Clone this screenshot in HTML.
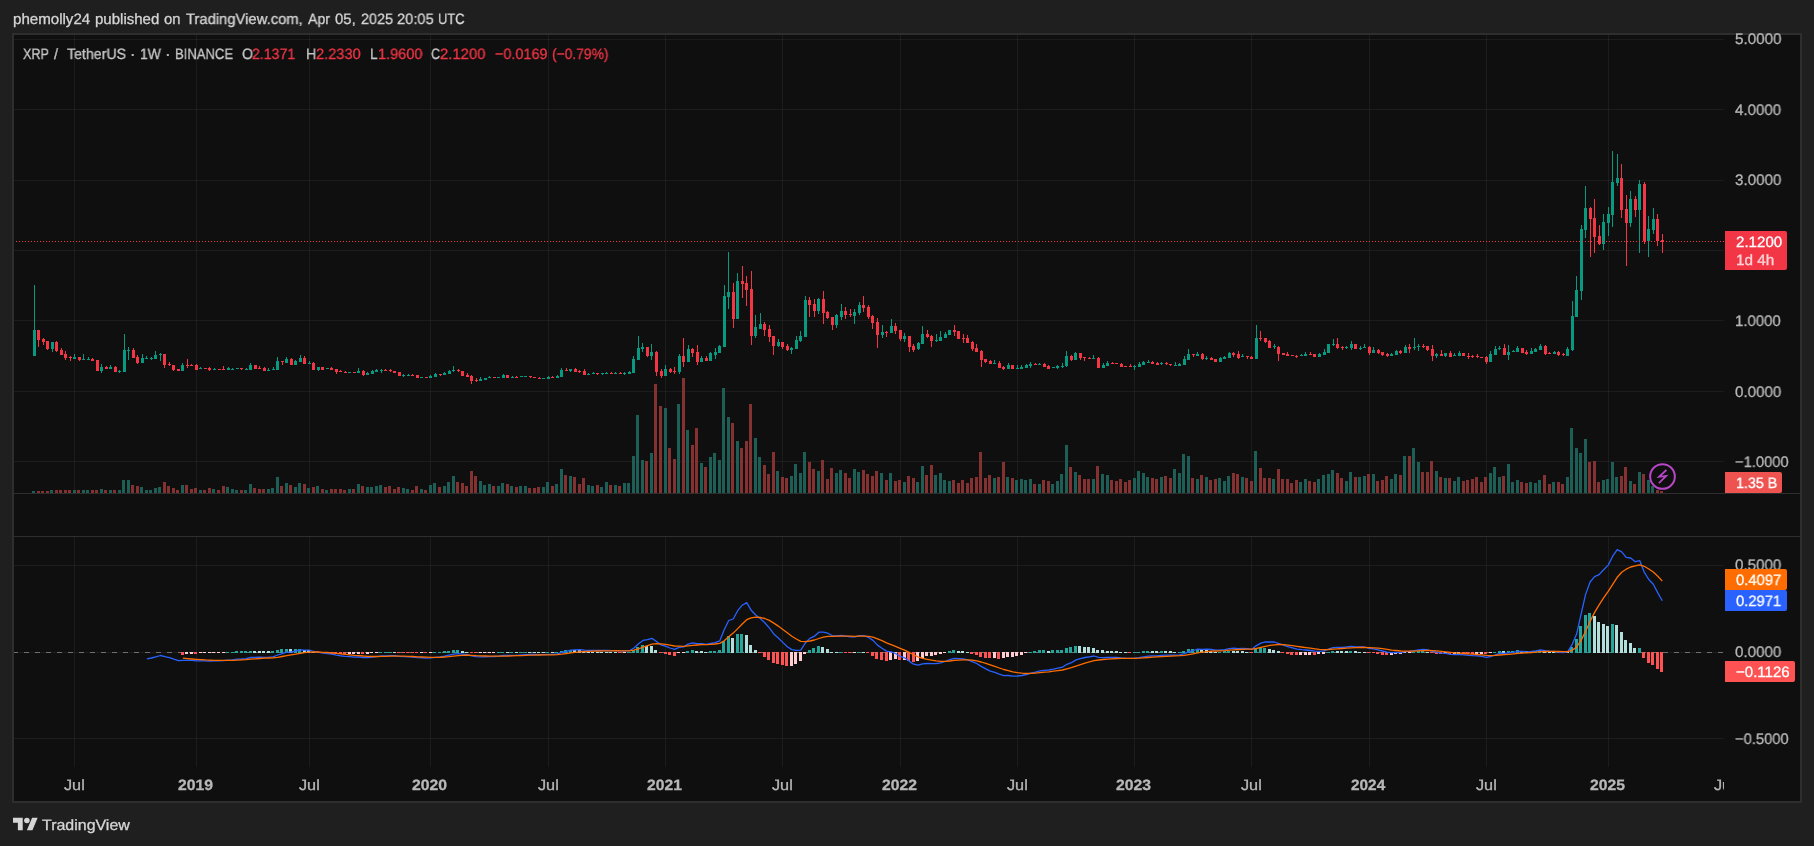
<!DOCTYPE html>
<html><head><meta charset="utf-8"><title>XRP / TetherUS chart</title>
<style>
html,body{margin:0;padding:0;}
body{width:1814px;height:846px;background:#1f1f1f;overflow:hidden;position:relative;font-family:"Liberation Sans",sans-serif;}
#frame{position:absolute;left:12px;top:33px;width:1786px;height:766px;border:2px solid #2e2e2e;background:#0f0f0f;}
svg{position:absolute;left:0;top:0;}
.t{position:absolute;white-space:pre;line-height:1;will-change:transform;transform-origin:0 0;-webkit-text-stroke:0.3px;text-rendering:geometricPrecision;font-family:"Liberation Sans",sans-serif;}
#taxis{position:absolute;left:14px;top:767px;width:1710px;height:34px;overflow:hidden;}
.lab{position:absolute;left:1725px;border-radius:0 2px 2px 0;}
</style></head><body>
<div id="frame"></div>
<svg width="1814" height="846" viewBox="0 0 1814 846" shape-rendering="crispEdges">
<rect x="14" y="39" width="1710" height="1" fill="#f2f2f2" fill-opacity="0.06"/>
<rect x="14" y="109" width="1710" height="1" fill="#f2f2f2" fill-opacity="0.06"/>
<rect x="14" y="180" width="1710" height="1" fill="#f2f2f2" fill-opacity="0.06"/>
<rect x="14" y="250" width="1710" height="1" fill="#f2f2f2" fill-opacity="0.06"/>
<rect x="14" y="320" width="1710" height="1" fill="#f2f2f2" fill-opacity="0.06"/>
<rect x="14" y="391" width="1710" height="1" fill="#f2f2f2" fill-opacity="0.06"/>
<rect x="14" y="461" width="1710" height="1" fill="#f2f2f2" fill-opacity="0.06"/>
<rect x="14" y="565" width="1710" height="1" fill="#f2f2f2" fill-opacity="0.06"/>
<rect x="14" y="738" width="1710" height="1" fill="#f2f2f2" fill-opacity="0.06"/>
<rect x="74" y="35" width="1" height="458" fill="#f2f2f2" fill-opacity="0.06"/>
<rect x="74" y="537" width="1" height="230" fill="#f2f2f2" fill-opacity="0.06"/>
<rect x="196" y="35" width="1" height="458" fill="#f2f2f2" fill-opacity="0.06"/>
<rect x="196" y="537" width="1" height="230" fill="#f2f2f2" fill-opacity="0.06"/>
<rect x="309" y="35" width="1" height="458" fill="#f2f2f2" fill-opacity="0.06"/>
<rect x="309" y="537" width="1" height="230" fill="#f2f2f2" fill-opacity="0.06"/>
<rect x="430" y="35" width="1" height="458" fill="#f2f2f2" fill-opacity="0.06"/>
<rect x="430" y="537" width="1" height="230" fill="#f2f2f2" fill-opacity="0.06"/>
<rect x="548" y="35" width="1" height="458" fill="#f2f2f2" fill-opacity="0.06"/>
<rect x="548" y="537" width="1" height="230" fill="#f2f2f2" fill-opacity="0.06"/>
<rect x="665" y="35" width="1" height="458" fill="#f2f2f2" fill-opacity="0.06"/>
<rect x="665" y="537" width="1" height="230" fill="#f2f2f2" fill-opacity="0.06"/>
<rect x="782" y="35" width="1" height="458" fill="#f2f2f2" fill-opacity="0.06"/>
<rect x="782" y="537" width="1" height="230" fill="#f2f2f2" fill-opacity="0.06"/>
<rect x="900" y="35" width="1" height="458" fill="#f2f2f2" fill-opacity="0.06"/>
<rect x="900" y="537" width="1" height="230" fill="#f2f2f2" fill-opacity="0.06"/>
<rect x="1017" y="35" width="1" height="458" fill="#f2f2f2" fill-opacity="0.06"/>
<rect x="1017" y="537" width="1" height="230" fill="#f2f2f2" fill-opacity="0.06"/>
<rect x="1134" y="35" width="1" height="458" fill="#f2f2f2" fill-opacity="0.06"/>
<rect x="1134" y="537" width="1" height="230" fill="#f2f2f2" fill-opacity="0.06"/>
<rect x="1251" y="35" width="1" height="458" fill="#f2f2f2" fill-opacity="0.06"/>
<rect x="1251" y="537" width="1" height="230" fill="#f2f2f2" fill-opacity="0.06"/>
<rect x="1369" y="35" width="1" height="458" fill="#f2f2f2" fill-opacity="0.06"/>
<rect x="1369" y="537" width="1" height="230" fill="#f2f2f2" fill-opacity="0.06"/>
<rect x="1486" y="35" width="1" height="458" fill="#f2f2f2" fill-opacity="0.06"/>
<rect x="1486" y="537" width="1" height="230" fill="#f2f2f2" fill-opacity="0.06"/>
<rect x="1608" y="35" width="1" height="458" fill="#f2f2f2" fill-opacity="0.06"/>
<rect x="1608" y="537" width="1" height="230" fill="#f2f2f2" fill-opacity="0.06"/>
<rect x="14" y="493" width="1786" height="1" fill="#2e2e2e"/>
<rect x="14" y="536" width="1786" height="1" fill="#2e2e2e"/>
<rect x="32" y="491" width="3" height="2" fill="#1d5e57"/>
<rect x="37" y="491" width="3" height="2" fill="#833231"/>
<rect x="41" y="491" width="3" height="2" fill="#833231"/>
<rect x="46" y="491" width="3" height="2" fill="#833231"/>
<rect x="50" y="490" width="3" height="3" fill="#1d5e57"/>
<rect x="55" y="490" width="3" height="3" fill="#833231"/>
<rect x="59" y="490" width="3" height="3" fill="#833231"/>
<rect x="64" y="490" width="3" height="3" fill="#833231"/>
<rect x="68" y="490" width="3" height="3" fill="#833231"/>
<rect x="73" y="490" width="3" height="3" fill="#1d5e57"/>
<rect x="77" y="490" width="3" height="3" fill="#833231"/>
<rect x="82" y="490" width="3" height="3" fill="#1d5e57"/>
<rect x="86" y="490" width="3" height="3" fill="#1d5e57"/>
<rect x="91" y="490" width="3" height="3" fill="#833231"/>
<rect x="95" y="490" width="3" height="3" fill="#833231"/>
<rect x="100" y="489" width="3" height="4" fill="#1d5e57"/>
<rect x="104" y="490" width="3" height="3" fill="#833231"/>
<rect x="109" y="490" width="3" height="3" fill="#1d5e57"/>
<rect x="113" y="490" width="3" height="3" fill="#833231"/>
<rect x="118" y="490" width="3" height="3" fill="#1d5e57"/>
<rect x="122" y="480" width="3" height="13" fill="#1d5e57"/>
<rect x="127" y="480" width="3" height="13" fill="#1d5e57"/>
<rect x="131" y="485" width="3" height="8" fill="#833231"/>
<rect x="136" y="486" width="3" height="7" fill="#833231"/>
<rect x="140" y="487" width="3" height="6" fill="#1d5e57"/>
<rect x="145" y="490" width="3" height="3" fill="#1d5e57"/>
<rect x="149" y="490" width="3" height="3" fill="#1d5e57"/>
<rect x="154" y="488" width="3" height="5" fill="#1d5e57"/>
<rect x="158" y="487" width="3" height="6" fill="#1d5e57"/>
<rect x="163" y="482" width="3" height="11" fill="#833231"/>
<rect x="167" y="486" width="3" height="7" fill="#833231"/>
<rect x="172" y="488" width="3" height="5" fill="#833231"/>
<rect x="176" y="490" width="3" height="3" fill="#833231"/>
<rect x="181" y="485" width="3" height="8" fill="#1d5e57"/>
<rect x="185" y="485" width="3" height="8" fill="#833231"/>
<rect x="190" y="489" width="3" height="4" fill="#833231"/>
<rect x="194" y="488" width="3" height="5" fill="#833231"/>
<rect x="199" y="490" width="3" height="3" fill="#1d5e57"/>
<rect x="203" y="490" width="3" height="3" fill="#833231"/>
<rect x="208" y="488" width="3" height="5" fill="#833231"/>
<rect x="212" y="489" width="3" height="4" fill="#1d5e57"/>
<rect x="217" y="490" width="3" height="3" fill="#833231"/>
<rect x="222" y="486" width="3" height="7" fill="#833231"/>
<rect x="226" y="487" width="3" height="6" fill="#1d5e57"/>
<rect x="231" y="489" width="3" height="4" fill="#1d5e57"/>
<rect x="235" y="490" width="3" height="3" fill="#1d5e57"/>
<rect x="240" y="490" width="3" height="3" fill="#833231"/>
<rect x="244" y="490" width="3" height="3" fill="#1d5e57"/>
<rect x="249" y="484" width="3" height="9" fill="#1d5e57"/>
<rect x="253" y="488" width="3" height="5" fill="#833231"/>
<rect x="258" y="489" width="3" height="4" fill="#833231"/>
<rect x="262" y="489" width="3" height="4" fill="#833231"/>
<rect x="267" y="489" width="3" height="4" fill="#1d5e57"/>
<rect x="271" y="488" width="3" height="5" fill="#1d5e57"/>
<rect x="276" y="477" width="3" height="16" fill="#1d5e57"/>
<rect x="280" y="486" width="3" height="7" fill="#833231"/>
<rect x="285" y="483" width="3" height="10" fill="#1d5e57"/>
<rect x="289" y="485" width="3" height="8" fill="#833231"/>
<rect x="294" y="487" width="3" height="6" fill="#1d5e57"/>
<rect x="298" y="483" width="3" height="10" fill="#1d5e57"/>
<rect x="303" y="484" width="3" height="9" fill="#833231"/>
<rect x="307" y="488" width="3" height="5" fill="#1d5e57"/>
<rect x="312" y="487" width="3" height="6" fill="#833231"/>
<rect x="316" y="486" width="3" height="7" fill="#1d5e57"/>
<rect x="321" y="489" width="3" height="4" fill="#833231"/>
<rect x="325" y="490" width="3" height="3" fill="#1d5e57"/>
<rect x="330" y="489" width="3" height="4" fill="#833231"/>
<rect x="334" y="489" width="3" height="4" fill="#833231"/>
<rect x="339" y="489" width="3" height="4" fill="#833231"/>
<rect x="343" y="490" width="3" height="3" fill="#833231"/>
<rect x="348" y="489" width="3" height="4" fill="#1d5e57"/>
<rect x="352" y="489" width="3" height="4" fill="#833231"/>
<rect x="357" y="484" width="3" height="9" fill="#1d5e57"/>
<rect x="361" y="486" width="3" height="7" fill="#833231"/>
<rect x="366" y="487" width="3" height="6" fill="#1d5e57"/>
<rect x="370" y="487" width="3" height="6" fill="#1d5e57"/>
<rect x="375" y="486" width="3" height="7" fill="#1d5e57"/>
<rect x="379" y="485" width="3" height="8" fill="#1d5e57"/>
<rect x="384" y="487" width="3" height="6" fill="#833231"/>
<rect x="388" y="486" width="3" height="7" fill="#833231"/>
<rect x="393" y="489" width="3" height="4" fill="#833231"/>
<rect x="397" y="487" width="3" height="6" fill="#833231"/>
<rect x="402" y="488" width="3" height="5" fill="#1d5e57"/>
<rect x="406" y="489" width="3" height="4" fill="#1d5e57"/>
<rect x="411" y="490" width="3" height="3" fill="#833231"/>
<rect x="415" y="486" width="3" height="7" fill="#833231"/>
<rect x="420" y="489" width="3" height="4" fill="#1d5e57"/>
<rect x="424" y="490" width="3" height="3" fill="#833231"/>
<rect x="429" y="485" width="3" height="8" fill="#1d5e57"/>
<rect x="433" y="483" width="3" height="10" fill="#1d5e57"/>
<rect x="438" y="487" width="3" height="6" fill="#833231"/>
<rect x="443" y="486" width="3" height="7" fill="#1d5e57"/>
<rect x="447" y="482" width="3" height="11" fill="#1d5e57"/>
<rect x="452" y="476" width="3" height="17" fill="#1d5e57"/>
<rect x="456" y="482" width="3" height="11" fill="#833231"/>
<rect x="461" y="483" width="3" height="10" fill="#833231"/>
<rect x="465" y="486" width="3" height="7" fill="#833231"/>
<rect x="470" y="471" width="3" height="22" fill="#833231"/>
<rect x="474" y="476" width="3" height="17" fill="#833231"/>
<rect x="479" y="481" width="3" height="12" fill="#1d5e57"/>
<rect x="483" y="485" width="3" height="8" fill="#1d5e57"/>
<rect x="488" y="484" width="3" height="9" fill="#1d5e57"/>
<rect x="492" y="486" width="3" height="7" fill="#833231"/>
<rect x="497" y="486" width="3" height="7" fill="#1d5e57"/>
<rect x="501" y="483" width="3" height="10" fill="#1d5e57"/>
<rect x="506" y="484" width="3" height="9" fill="#833231"/>
<rect x="510" y="486" width="3" height="7" fill="#1d5e57"/>
<rect x="515" y="487" width="3" height="6" fill="#833231"/>
<rect x="519" y="486" width="3" height="7" fill="#1d5e57"/>
<rect x="524" y="486" width="3" height="7" fill="#1d5e57"/>
<rect x="528" y="488" width="3" height="5" fill="#833231"/>
<rect x="533" y="488" width="3" height="5" fill="#833231"/>
<rect x="537" y="487" width="3" height="6" fill="#833231"/>
<rect x="542" y="487" width="3" height="6" fill="#1d5e57"/>
<rect x="546" y="482" width="3" height="11" fill="#1d5e57"/>
<rect x="551" y="486" width="3" height="7" fill="#833231"/>
<rect x="555" y="484" width="3" height="9" fill="#1d5e57"/>
<rect x="560" y="469" width="3" height="24" fill="#1d5e57"/>
<rect x="564" y="475" width="3" height="18" fill="#833231"/>
<rect x="569" y="476" width="3" height="17" fill="#1d5e57"/>
<rect x="573" y="477" width="3" height="16" fill="#833231"/>
<rect x="578" y="484" width="3" height="9" fill="#833231"/>
<rect x="582" y="478" width="3" height="15" fill="#833231"/>
<rect x="587" y="485" width="3" height="8" fill="#1d5e57"/>
<rect x="591" y="486" width="3" height="7" fill="#1d5e57"/>
<rect x="596" y="485" width="3" height="8" fill="#833231"/>
<rect x="600" y="487" width="3" height="6" fill="#1d5e57"/>
<rect x="605" y="482" width="3" height="11" fill="#1d5e57"/>
<rect x="609" y="485" width="3" height="8" fill="#833231"/>
<rect x="614" y="485" width="3" height="8" fill="#1d5e57"/>
<rect x="618" y="486" width="3" height="7" fill="#833231"/>
<rect x="623" y="483" width="3" height="10" fill="#1d5e57"/>
<rect x="627" y="483" width="3" height="10" fill="#1d5e57"/>
<rect x="632" y="456" width="3" height="37" fill="#1d5e57"/>
<rect x="636" y="415" width="3" height="78" fill="#1d5e57"/>
<rect x="641" y="460" width="3" height="33" fill="#1d5e57"/>
<rect x="645" y="461" width="3" height="32" fill="#833231"/>
<rect x="650" y="453" width="3" height="40" fill="#1d5e57"/>
<rect x="654" y="384" width="3" height="109" fill="#833231"/>
<rect x="659" y="406" width="3" height="87" fill="#833231"/>
<rect x="664" y="408" width="3" height="85" fill="#1d5e57"/>
<rect x="668" y="448" width="3" height="45" fill="#833231"/>
<rect x="673" y="459" width="3" height="34" fill="#833231"/>
<rect x="677" y="404" width="3" height="89" fill="#1d5e57"/>
<rect x="682" y="378" width="3" height="115" fill="#833231"/>
<rect x="686" y="430" width="3" height="63" fill="#1d5e57"/>
<rect x="691" y="445" width="3" height="48" fill="#833231"/>
<rect x="695" y="428" width="3" height="65" fill="#833231"/>
<rect x="700" y="463" width="3" height="30" fill="#1d5e57"/>
<rect x="704" y="467" width="3" height="26" fill="#833231"/>
<rect x="709" y="457" width="3" height="36" fill="#1d5e57"/>
<rect x="713" y="453" width="3" height="40" fill="#1d5e57"/>
<rect x="718" y="460" width="3" height="33" fill="#1d5e57"/>
<rect x="722" y="388" width="3" height="105" fill="#1d5e57"/>
<rect x="727" y="417" width="3" height="76" fill="#1d5e57"/>
<rect x="731" y="423" width="3" height="70" fill="#833231"/>
<rect x="736" y="441" width="3" height="52" fill="#1d5e57"/>
<rect x="740" y="448" width="3" height="45" fill="#833231"/>
<rect x="745" y="441" width="3" height="52" fill="#833231"/>
<rect x="749" y="404" width="3" height="89" fill="#833231"/>
<rect x="754" y="438" width="3" height="55" fill="#1d5e57"/>
<rect x="758" y="457" width="3" height="36" fill="#1d5e57"/>
<rect x="763" y="465" width="3" height="28" fill="#833231"/>
<rect x="767" y="474" width="3" height="19" fill="#833231"/>
<rect x="772" y="452" width="3" height="41" fill="#833231"/>
<rect x="776" y="471" width="3" height="22" fill="#1d5e57"/>
<rect x="781" y="477" width="3" height="16" fill="#833231"/>
<rect x="785" y="478" width="3" height="15" fill="#833231"/>
<rect x="790" y="476" width="3" height="17" fill="#1d5e57"/>
<rect x="794" y="464" width="3" height="29" fill="#1d5e57"/>
<rect x="799" y="473" width="3" height="20" fill="#1d5e57"/>
<rect x="803" y="452" width="3" height="41" fill="#1d5e57"/>
<rect x="808" y="462" width="3" height="31" fill="#833231"/>
<rect x="812" y="469" width="3" height="24" fill="#833231"/>
<rect x="817" y="471" width="3" height="22" fill="#1d5e57"/>
<rect x="821" y="460" width="3" height="33" fill="#833231"/>
<rect x="826" y="479" width="3" height="14" fill="#833231"/>
<rect x="830" y="468" width="3" height="25" fill="#833231"/>
<rect x="835" y="473" width="3" height="20" fill="#1d5e57"/>
<rect x="839" y="470" width="3" height="23" fill="#1d5e57"/>
<rect x="844" y="473" width="3" height="20" fill="#833231"/>
<rect x="848" y="478" width="3" height="15" fill="#833231"/>
<rect x="853" y="469" width="3" height="24" fill="#1d5e57"/>
<rect x="857" y="472" width="3" height="21" fill="#1d5e57"/>
<rect x="862" y="470" width="3" height="23" fill="#833231"/>
<rect x="866" y="474" width="3" height="19" fill="#833231"/>
<rect x="871" y="476" width="3" height="17" fill="#833231"/>
<rect x="875" y="471" width="3" height="22" fill="#833231"/>
<rect x="880" y="473" width="3" height="20" fill="#1d5e57"/>
<rect x="885" y="480" width="3" height="13" fill="#833231"/>
<rect x="889" y="473" width="3" height="20" fill="#1d5e57"/>
<rect x="894" y="481" width="3" height="12" fill="#833231"/>
<rect x="898" y="480" width="3" height="13" fill="#833231"/>
<rect x="903" y="482" width="3" height="11" fill="#1d5e57"/>
<rect x="907" y="476" width="3" height="17" fill="#833231"/>
<rect x="912" y="478" width="3" height="15" fill="#833231"/>
<rect x="916" y="482" width="3" height="11" fill="#1d5e57"/>
<rect x="921" y="466" width="3" height="27" fill="#1d5e57"/>
<rect x="925" y="475" width="3" height="18" fill="#833231"/>
<rect x="930" y="465" width="3" height="28" fill="#833231"/>
<rect x="934" y="475" width="3" height="18" fill="#1d5e57"/>
<rect x="939" y="473" width="3" height="20" fill="#1d5e57"/>
<rect x="943" y="480" width="3" height="13" fill="#1d5e57"/>
<rect x="948" y="481" width="3" height="12" fill="#1d5e57"/>
<rect x="952" y="480" width="3" height="13" fill="#833231"/>
<rect x="957" y="483" width="3" height="10" fill="#833231"/>
<rect x="961" y="480" width="3" height="13" fill="#833231"/>
<rect x="966" y="483" width="3" height="10" fill="#833231"/>
<rect x="970" y="478" width="3" height="15" fill="#833231"/>
<rect x="975" y="477" width="3" height="16" fill="#833231"/>
<rect x="979" y="452" width="3" height="41" fill="#833231"/>
<rect x="984" y="478" width="3" height="15" fill="#833231"/>
<rect x="988" y="475" width="3" height="18" fill="#833231"/>
<rect x="993" y="478" width="3" height="15" fill="#1d5e57"/>
<rect x="997" y="477" width="3" height="16" fill="#833231"/>
<rect x="1002" y="462" width="3" height="31" fill="#833231"/>
<rect x="1006" y="477" width="3" height="16" fill="#1d5e57"/>
<rect x="1011" y="478" width="3" height="15" fill="#833231"/>
<rect x="1015" y="480" width="3" height="13" fill="#1d5e57"/>
<rect x="1020" y="479" width="3" height="14" fill="#1d5e57"/>
<rect x="1024" y="480" width="3" height="13" fill="#1d5e57"/>
<rect x="1029" y="479" width="3" height="14" fill="#1d5e57"/>
<rect x="1033" y="484" width="3" height="9" fill="#833231"/>
<rect x="1038" y="484" width="3" height="9" fill="#1d5e57"/>
<rect x="1042" y="480" width="3" height="13" fill="#833231"/>
<rect x="1047" y="481" width="3" height="12" fill="#833231"/>
<rect x="1051" y="484" width="3" height="9" fill="#1d5e57"/>
<rect x="1056" y="481" width="3" height="12" fill="#1d5e57"/>
<rect x="1060" y="474" width="3" height="19" fill="#1d5e57"/>
<rect x="1065" y="445" width="3" height="48" fill="#1d5e57"/>
<rect x="1069" y="467" width="3" height="26" fill="#833231"/>
<rect x="1074" y="472" width="3" height="21" fill="#1d5e57"/>
<rect x="1078" y="475" width="3" height="18" fill="#833231"/>
<rect x="1083" y="479" width="3" height="14" fill="#833231"/>
<rect x="1087" y="479" width="3" height="14" fill="#833231"/>
<rect x="1092" y="479" width="3" height="14" fill="#1d5e57"/>
<rect x="1096" y="466" width="3" height="27" fill="#833231"/>
<rect x="1101" y="474" width="3" height="19" fill="#1d5e57"/>
<rect x="1106" y="475" width="3" height="18" fill="#1d5e57"/>
<rect x="1110" y="480" width="3" height="13" fill="#833231"/>
<rect x="1115" y="481" width="3" height="12" fill="#833231"/>
<rect x="1119" y="479" width="3" height="14" fill="#833231"/>
<rect x="1124" y="482" width="3" height="11" fill="#833231"/>
<rect x="1128" y="480" width="3" height="13" fill="#833231"/>
<rect x="1133" y="478" width="3" height="15" fill="#1d5e57"/>
<rect x="1137" y="471" width="3" height="22" fill="#1d5e57"/>
<rect x="1142" y="473" width="3" height="20" fill="#1d5e57"/>
<rect x="1146" y="477" width="3" height="16" fill="#1d5e57"/>
<rect x="1151" y="478" width="3" height="15" fill="#833231"/>
<rect x="1155" y="479" width="3" height="14" fill="#833231"/>
<rect x="1160" y="477" width="3" height="16" fill="#1d5e57"/>
<rect x="1164" y="476" width="3" height="17" fill="#833231"/>
<rect x="1169" y="478" width="3" height="15" fill="#833231"/>
<rect x="1173" y="469" width="3" height="24" fill="#1d5e57"/>
<rect x="1178" y="473" width="3" height="20" fill="#1d5e57"/>
<rect x="1182" y="454" width="3" height="39" fill="#1d5e57"/>
<rect x="1187" y="456" width="3" height="37" fill="#1d5e57"/>
<rect x="1191" y="478" width="3" height="15" fill="#833231"/>
<rect x="1196" y="479" width="3" height="14" fill="#1d5e57"/>
<rect x="1200" y="475" width="3" height="18" fill="#833231"/>
<rect x="1205" y="477" width="3" height="16" fill="#1d5e57"/>
<rect x="1209" y="480" width="3" height="13" fill="#833231"/>
<rect x="1214" y="479" width="3" height="14" fill="#833231"/>
<rect x="1218" y="478" width="3" height="15" fill="#1d5e57"/>
<rect x="1223" y="481" width="3" height="12" fill="#1d5e57"/>
<rect x="1227" y="476" width="3" height="17" fill="#1d5e57"/>
<rect x="1232" y="473" width="3" height="20" fill="#833231"/>
<rect x="1236" y="474" width="3" height="19" fill="#833231"/>
<rect x="1241" y="477" width="3" height="16" fill="#1d5e57"/>
<rect x="1245" y="478" width="3" height="15" fill="#833231"/>
<rect x="1250" y="481" width="3" height="12" fill="#833231"/>
<rect x="1254" y="451" width="3" height="42" fill="#1d5e57"/>
<rect x="1259" y="468" width="3" height="25" fill="#833231"/>
<rect x="1263" y="478" width="3" height="15" fill="#833231"/>
<rect x="1268" y="478" width="3" height="15" fill="#833231"/>
<rect x="1272" y="479" width="3" height="14" fill="#1d5e57"/>
<rect x="1277" y="469" width="3" height="24" fill="#833231"/>
<rect x="1281" y="479" width="3" height="14" fill="#833231"/>
<rect x="1286" y="479" width="3" height="14" fill="#833231"/>
<rect x="1290" y="483" width="3" height="10" fill="#833231"/>
<rect x="1295" y="480" width="3" height="13" fill="#833231"/>
<rect x="1299" y="482" width="3" height="11" fill="#1d5e57"/>
<rect x="1304" y="479" width="3" height="14" fill="#1d5e57"/>
<rect x="1308" y="481" width="3" height="12" fill="#833231"/>
<rect x="1313" y="482" width="3" height="11" fill="#833231"/>
<rect x="1317" y="479" width="3" height="14" fill="#1d5e57"/>
<rect x="1322" y="475" width="3" height="18" fill="#1d5e57"/>
<rect x="1327" y="474" width="3" height="19" fill="#1d5e57"/>
<rect x="1331" y="470" width="3" height="23" fill="#1d5e57"/>
<rect x="1336" y="473" width="3" height="20" fill="#833231"/>
<rect x="1340" y="478" width="3" height="15" fill="#833231"/>
<rect x="1345" y="481" width="3" height="12" fill="#1d5e57"/>
<rect x="1349" y="472" width="3" height="21" fill="#1d5e57"/>
<rect x="1354" y="477" width="3" height="16" fill="#833231"/>
<rect x="1358" y="477" width="3" height="16" fill="#1d5e57"/>
<rect x="1363" y="476" width="3" height="17" fill="#1d5e57"/>
<rect x="1367" y="474" width="3" height="19" fill="#833231"/>
<rect x="1372" y="474" width="3" height="19" fill="#1d5e57"/>
<rect x="1376" y="481" width="3" height="12" fill="#833231"/>
<rect x="1381" y="480" width="3" height="13" fill="#833231"/>
<rect x="1385" y="476" width="3" height="17" fill="#833231"/>
<rect x="1390" y="479" width="3" height="14" fill="#1d5e57"/>
<rect x="1394" y="474" width="3" height="19" fill="#1d5e57"/>
<rect x="1399" y="475" width="3" height="18" fill="#833231"/>
<rect x="1403" y="456" width="3" height="37" fill="#1d5e57"/>
<rect x="1408" y="456" width="3" height="37" fill="#833231"/>
<rect x="1412" y="448" width="3" height="45" fill="#1d5e57"/>
<rect x="1417" y="462" width="3" height="31" fill="#1d5e57"/>
<rect x="1421" y="472" width="3" height="21" fill="#833231"/>
<rect x="1426" y="472" width="3" height="21" fill="#833231"/>
<rect x="1430" y="461" width="3" height="32" fill="#833231"/>
<rect x="1435" y="471" width="3" height="22" fill="#1d5e57"/>
<rect x="1439" y="477" width="3" height="16" fill="#833231"/>
<rect x="1444" y="478" width="3" height="15" fill="#1d5e57"/>
<rect x="1448" y="478" width="3" height="15" fill="#833231"/>
<rect x="1453" y="481" width="3" height="12" fill="#1d5e57"/>
<rect x="1457" y="477" width="3" height="16" fill="#1d5e57"/>
<rect x="1462" y="481" width="3" height="12" fill="#833231"/>
<rect x="1466" y="480" width="3" height="13" fill="#833231"/>
<rect x="1471" y="479" width="3" height="14" fill="#833231"/>
<rect x="1475" y="477" width="3" height="16" fill="#833231"/>
<rect x="1480" y="482" width="3" height="11" fill="#833231"/>
<rect x="1484" y="477" width="3" height="16" fill="#833231"/>
<rect x="1489" y="473" width="3" height="20" fill="#1d5e57"/>
<rect x="1493" y="467" width="3" height="26" fill="#1d5e57"/>
<rect x="1498" y="477" width="3" height="16" fill="#1d5e57"/>
<rect x="1502" y="476" width="3" height="17" fill="#833231"/>
<rect x="1507" y="464" width="3" height="29" fill="#1d5e57"/>
<rect x="1511" y="482" width="3" height="11" fill="#1d5e57"/>
<rect x="1516" y="480" width="3" height="13" fill="#1d5e57"/>
<rect x="1520" y="482" width="3" height="11" fill="#833231"/>
<rect x="1525" y="483" width="3" height="10" fill="#833231"/>
<rect x="1529" y="482" width="3" height="11" fill="#1d5e57"/>
<rect x="1534" y="483" width="3" height="10" fill="#1d5e57"/>
<rect x="1538" y="480" width="3" height="13" fill="#1d5e57"/>
<rect x="1543" y="475" width="3" height="18" fill="#833231"/>
<rect x="1548" y="484" width="3" height="9" fill="#833231"/>
<rect x="1552" y="482" width="3" height="11" fill="#1d5e57"/>
<rect x="1557" y="482" width="3" height="11" fill="#833231"/>
<rect x="1561" y="484" width="3" height="9" fill="#833231"/>
<rect x="1566" y="477" width="3" height="16" fill="#1d5e57"/>
<rect x="1570" y="428" width="3" height="65" fill="#1d5e57"/>
<rect x="1575" y="448" width="3" height="45" fill="#1d5e57"/>
<rect x="1579" y="453" width="3" height="40" fill="#1d5e57"/>
<rect x="1584" y="439" width="3" height="54" fill="#1d5e57"/>
<rect x="1588" y="462" width="3" height="31" fill="#833231"/>
<rect x="1593" y="461" width="3" height="32" fill="#833231"/>
<rect x="1597" y="482" width="3" height="11" fill="#833231"/>
<rect x="1602" y="480" width="3" height="13" fill="#1d5e57"/>
<rect x="1606" y="479" width="3" height="14" fill="#1d5e57"/>
<rect x="1611" y="462" width="3" height="31" fill="#1d5e57"/>
<rect x="1615" y="477" width="3" height="16" fill="#1d5e57"/>
<rect x="1620" y="476" width="3" height="17" fill="#833231"/>
<rect x="1624" y="467" width="3" height="26" fill="#833231"/>
<rect x="1629" y="481" width="3" height="12" fill="#1d5e57"/>
<rect x="1633" y="484" width="3" height="9" fill="#833231"/>
<rect x="1638" y="472" width="3" height="21" fill="#1d5e57"/>
<rect x="1642" y="474" width="3" height="19" fill="#833231"/>
<rect x="1647" y="480" width="3" height="13" fill="#1d5e57"/>
<rect x="1651" y="486" width="3" height="7" fill="#1d5e57"/>
<rect x="1656" y="490" width="3" height="3" fill="#833231"/>
<rect x="1660" y="491" width="3" height="2" fill="#833231"/>
<rect x="34" y="285" width="1" height="71" fill="#089981"/>
<rect x="33" y="330" width="3" height="26" fill="#089981"/>
<rect x="38" y="330" width="1" height="17" fill="#f23645"/>
<rect x="37" y="330" width="3" height="10" fill="#f23645"/>
<rect x="43" y="338" width="1" height="7" fill="#f23645"/>
<rect x="42" y="339" width="3" height="3" fill="#f23645"/>
<rect x="47" y="341" width="1" height="9" fill="#f23645"/>
<rect x="46" y="341" width="3" height="8" fill="#f23645"/>
<rect x="52" y="342" width="1" height="10" fill="#089981"/>
<rect x="51" y="342" width="3" height="7" fill="#089981"/>
<rect x="56" y="341" width="1" height="11" fill="#f23645"/>
<rect x="55" y="342" width="3" height="9" fill="#f23645"/>
<rect x="61" y="348" width="1" height="7" fill="#f23645"/>
<rect x="60" y="350" width="3" height="5" fill="#f23645"/>
<rect x="65" y="351" width="1" height="9" fill="#f23645"/>
<rect x="64" y="354" width="3" height="4" fill="#f23645"/>
<rect x="70" y="356" width="1" height="5" fill="#f23645"/>
<rect x="69" y="357" width="3" height="1" fill="#f23645"/>
<rect x="74" y="354" width="1" height="5" fill="#089981"/>
<rect x="73" y="357" width="3" height="2" fill="#089981"/>
<rect x="79" y="357" width="1" height="4" fill="#f23645"/>
<rect x="78" y="357" width="3" height="3" fill="#f23645"/>
<rect x="83" y="354" width="1" height="6" fill="#089981"/>
<rect x="82" y="359" width="3" height="1" fill="#089981"/>
<rect x="88" y="357" width="1" height="3" fill="#089981"/>
<rect x="87" y="359" width="3" height="1" fill="#089981"/>
<rect x="92" y="358" width="1" height="3" fill="#f23645"/>
<rect x="91" y="359" width="3" height="2" fill="#f23645"/>
<rect x="97" y="360" width="1" height="11" fill="#f23645"/>
<rect x="96" y="360" width="3" height="11" fill="#f23645"/>
<rect x="101" y="364" width="1" height="9" fill="#089981"/>
<rect x="100" y="367" width="3" height="4" fill="#089981"/>
<rect x="106" y="366" width="1" height="3" fill="#f23645"/>
<rect x="105" y="367" width="3" height="2" fill="#f23645"/>
<rect x="110" y="365" width="1" height="4" fill="#089981"/>
<rect x="109" y="367" width="3" height="2" fill="#089981"/>
<rect x="115" y="366" width="1" height="6" fill="#f23645"/>
<rect x="114" y="367" width="3" height="5" fill="#f23645"/>
<rect x="119" y="370" width="1" height="3" fill="#089981"/>
<rect x="118" y="371" width="3" height="1" fill="#089981"/>
<rect x="124" y="334" width="1" height="38" fill="#089981"/>
<rect x="123" y="350" width="3" height="22" fill="#089981"/>
<rect x="128" y="347" width="1" height="13" fill="#089981"/>
<rect x="127" y="350" width="3" height="1" fill="#089981"/>
<rect x="133" y="348" width="1" height="10" fill="#f23645"/>
<rect x="132" y="350" width="3" height="8" fill="#f23645"/>
<rect x="137" y="355" width="1" height="9" fill="#f23645"/>
<rect x="136" y="357" width="3" height="6" fill="#f23645"/>
<rect x="142" y="354" width="1" height="9" fill="#089981"/>
<rect x="141" y="358" width="3" height="5" fill="#089981"/>
<rect x="146" y="356" width="1" height="3" fill="#089981"/>
<rect x="145" y="358" width="3" height="1" fill="#089981"/>
<rect x="151" y="357" width="1" height="3" fill="#089981"/>
<rect x="150" y="358" width="3" height="1" fill="#089981"/>
<rect x="155" y="351" width="1" height="8" fill="#089981"/>
<rect x="154" y="355" width="3" height="4" fill="#089981"/>
<rect x="160" y="353" width="1" height="8" fill="#089981"/>
<rect x="159" y="354" width="3" height="1" fill="#089981"/>
<rect x="164" y="354" width="1" height="14" fill="#f23645"/>
<rect x="163" y="354" width="3" height="11" fill="#f23645"/>
<rect x="169" y="362" width="1" height="4" fill="#f23645"/>
<rect x="168" y="364" width="3" height="1" fill="#f23645"/>
<rect x="173" y="365" width="1" height="6" fill="#f23645"/>
<rect x="172" y="365" width="3" height="5" fill="#f23645"/>
<rect x="178" y="369" width="1" height="2" fill="#f23645"/>
<rect x="177" y="369" width="3" height="2" fill="#f23645"/>
<rect x="182" y="363" width="1" height="8" fill="#089981"/>
<rect x="181" y="365" width="3" height="6" fill="#089981"/>
<rect x="187" y="359" width="1" height="9" fill="#f23645"/>
<rect x="186" y="365" width="3" height="1" fill="#f23645"/>
<rect x="191" y="364" width="1" height="2" fill="#f23645"/>
<rect x="190" y="365" width="3" height="1" fill="#f23645"/>
<rect x="196" y="364" width="1" height="6" fill="#f23645"/>
<rect x="195" y="365" width="3" height="5" fill="#f23645"/>
<rect x="200" y="367" width="1" height="2" fill="#089981"/>
<rect x="199" y="368" width="3" height="1" fill="#089981"/>
<rect x="205" y="368" width="1" height="1" fill="#f23645"/>
<rect x="204" y="368" width="3" height="1" fill="#f23645"/>
<rect x="209" y="367" width="1" height="4" fill="#f23645"/>
<rect x="208" y="368" width="3" height="2" fill="#f23645"/>
<rect x="214" y="368" width="1" height="2" fill="#089981"/>
<rect x="213" y="369" width="3" height="1" fill="#089981"/>
<rect x="219" y="369" width="1" height="1" fill="#f23645"/>
<rect x="218" y="369" width="3" height="1" fill="#f23645"/>
<rect x="223" y="366" width="1" height="4" fill="#f23645"/>
<rect x="222" y="369" width="3" height="1" fill="#f23645"/>
<rect x="228" y="367" width="1" height="3" fill="#089981"/>
<rect x="227" y="368" width="3" height="2" fill="#089981"/>
<rect x="232" y="368" width="1" height="2" fill="#089981"/>
<rect x="231" y="369" width="3" height="1" fill="#089981"/>
<rect x="237" y="368" width="1" height="1" fill="#089981"/>
<rect x="236" y="368" width="3" height="1" fill="#089981"/>
<rect x="241" y="368" width="1" height="2" fill="#f23645"/>
<rect x="240" y="368" width="3" height="1" fill="#f23645"/>
<rect x="246" y="368" width="1" height="2" fill="#089981"/>
<rect x="245" y="369" width="3" height="1" fill="#089981"/>
<rect x="250" y="363" width="1" height="7" fill="#089981"/>
<rect x="249" y="365" width="3" height="5" fill="#089981"/>
<rect x="255" y="365" width="1" height="4" fill="#f23645"/>
<rect x="254" y="365" width="3" height="4" fill="#f23645"/>
<rect x="259" y="366" width="1" height="3" fill="#f23645"/>
<rect x="258" y="368" width="3" height="1" fill="#f23645"/>
<rect x="264" y="367" width="1" height="4" fill="#f23645"/>
<rect x="263" y="368" width="3" height="3" fill="#f23645"/>
<rect x="268" y="368" width="1" height="3" fill="#089981"/>
<rect x="267" y="370" width="3" height="1" fill="#089981"/>
<rect x="273" y="367" width="1" height="3" fill="#089981"/>
<rect x="272" y="369" width="3" height="1" fill="#089981"/>
<rect x="277" y="357" width="1" height="13" fill="#089981"/>
<rect x="276" y="361" width="3" height="9" fill="#089981"/>
<rect x="282" y="361" width="1" height="4" fill="#f23645"/>
<rect x="281" y="361" width="3" height="1" fill="#f23645"/>
<rect x="286" y="357" width="1" height="6" fill="#089981"/>
<rect x="285" y="359" width="3" height="4" fill="#089981"/>
<rect x="291" y="358" width="1" height="7" fill="#f23645"/>
<rect x="290" y="359" width="3" height="6" fill="#f23645"/>
<rect x="295" y="360" width="1" height="5" fill="#089981"/>
<rect x="294" y="361" width="3" height="4" fill="#089981"/>
<rect x="300" y="355" width="1" height="7" fill="#089981"/>
<rect x="299" y="358" width="3" height="4" fill="#089981"/>
<rect x="304" y="356" width="1" height="8" fill="#f23645"/>
<rect x="303" y="358" width="3" height="6" fill="#f23645"/>
<rect x="309" y="361" width="1" height="3" fill="#089981"/>
<rect x="308" y="363" width="3" height="1" fill="#089981"/>
<rect x="313" y="362" width="1" height="8" fill="#f23645"/>
<rect x="312" y="363" width="3" height="7" fill="#f23645"/>
<rect x="318" y="367" width="1" height="4" fill="#089981"/>
<rect x="317" y="367" width="3" height="3" fill="#089981"/>
<rect x="322" y="367" width="1" height="3" fill="#f23645"/>
<rect x="321" y="367" width="3" height="3" fill="#f23645"/>
<rect x="327" y="368" width="1" height="1" fill="#089981"/>
<rect x="326" y="368" width="3" height="1" fill="#089981"/>
<rect x="331" y="367" width="1" height="3" fill="#f23645"/>
<rect x="330" y="368" width="3" height="2" fill="#f23645"/>
<rect x="336" y="369" width="1" height="5" fill="#f23645"/>
<rect x="335" y="369" width="3" height="3" fill="#f23645"/>
<rect x="340" y="370" width="1" height="2" fill="#f23645"/>
<rect x="339" y="371" width="3" height="1" fill="#f23645"/>
<rect x="345" y="371" width="1" height="2" fill="#f23645"/>
<rect x="344" y="372" width="3" height="1" fill="#f23645"/>
<rect x="349" y="372" width="1" height="1" fill="#089981"/>
<rect x="348" y="372" width="3" height="1" fill="#089981"/>
<rect x="354" y="372" width="1" height="1" fill="#f23645"/>
<rect x="353" y="372" width="3" height="1" fill="#f23645"/>
<rect x="358" y="368" width="1" height="5" fill="#089981"/>
<rect x="357" y="371" width="3" height="2" fill="#089981"/>
<rect x="363" y="370" width="1" height="6" fill="#f23645"/>
<rect x="362" y="371" width="3" height="4" fill="#f23645"/>
<rect x="367" y="372" width="1" height="3" fill="#089981"/>
<rect x="366" y="373" width="3" height="2" fill="#089981"/>
<rect x="372" y="370" width="1" height="4" fill="#089981"/>
<rect x="371" y="371" width="3" height="3" fill="#089981"/>
<rect x="376" y="369" width="1" height="3" fill="#089981"/>
<rect x="375" y="370" width="3" height="2" fill="#089981"/>
<rect x="381" y="369" width="1" height="4" fill="#089981"/>
<rect x="380" y="370" width="3" height="1" fill="#089981"/>
<rect x="385" y="369" width="1" height="2" fill="#f23645"/>
<rect x="384" y="370" width="3" height="1" fill="#f23645"/>
<rect x="390" y="369" width="1" height="3" fill="#f23645"/>
<rect x="389" y="370" width="3" height="1" fill="#f23645"/>
<rect x="394" y="371" width="1" height="2" fill="#f23645"/>
<rect x="393" y="371" width="3" height="2" fill="#f23645"/>
<rect x="399" y="372" width="1" height="4" fill="#f23645"/>
<rect x="398" y="372" width="3" height="4" fill="#f23645"/>
<rect x="403" y="374" width="1" height="3" fill="#089981"/>
<rect x="402" y="375" width="3" height="1" fill="#089981"/>
<rect x="408" y="374" width="1" height="2" fill="#089981"/>
<rect x="407" y="375" width="3" height="1" fill="#089981"/>
<rect x="412" y="374" width="1" height="2" fill="#f23645"/>
<rect x="411" y="375" width="3" height="1" fill="#f23645"/>
<rect x="417" y="375" width="1" height="3" fill="#f23645"/>
<rect x="416" y="375" width="3" height="3" fill="#f23645"/>
<rect x="421" y="377" width="1" height="1" fill="#089981"/>
<rect x="420" y="377" width="3" height="1" fill="#089981"/>
<rect x="426" y="377" width="1" height="1" fill="#f23645"/>
<rect x="425" y="377" width="3" height="1" fill="#f23645"/>
<rect x="430" y="375" width="1" height="3" fill="#089981"/>
<rect x="429" y="376" width="3" height="2" fill="#089981"/>
<rect x="435" y="373" width="1" height="4" fill="#089981"/>
<rect x="434" y="374" width="3" height="3" fill="#089981"/>
<rect x="440" y="374" width="1" height="2" fill="#f23645"/>
<rect x="439" y="374" width="3" height="1" fill="#f23645"/>
<rect x="444" y="372" width="1" height="3" fill="#089981"/>
<rect x="443" y="373" width="3" height="2" fill="#089981"/>
<rect x="449" y="370" width="1" height="4" fill="#089981"/>
<rect x="448" y="371" width="3" height="3" fill="#089981"/>
<rect x="453" y="366" width="1" height="6" fill="#089981"/>
<rect x="452" y="370" width="3" height="1" fill="#089981"/>
<rect x="458" y="369" width="1" height="3" fill="#f23645"/>
<rect x="457" y="370" width="3" height="1" fill="#f23645"/>
<rect x="462" y="371" width="1" height="5" fill="#f23645"/>
<rect x="461" y="371" width="3" height="5" fill="#f23645"/>
<rect x="467" y="373" width="1" height="4" fill="#f23645"/>
<rect x="466" y="375" width="3" height="2" fill="#f23645"/>
<rect x="471" y="375" width="1" height="9" fill="#f23645"/>
<rect x="470" y="376" width="3" height="5" fill="#f23645"/>
<rect x="476" y="378" width="1" height="4" fill="#f23645"/>
<rect x="475" y="380" width="3" height="1" fill="#f23645"/>
<rect x="480" y="377" width="1" height="4" fill="#089981"/>
<rect x="479" y="379" width="3" height="2" fill="#089981"/>
<rect x="485" y="378" width="1" height="2" fill="#089981"/>
<rect x="484" y="378" width="3" height="2" fill="#089981"/>
<rect x="489" y="376" width="1" height="2" fill="#089981"/>
<rect x="488" y="377" width="3" height="1" fill="#089981"/>
<rect x="494" y="377" width="1" height="1" fill="#f23645"/>
<rect x="493" y="377" width="3" height="1" fill="#f23645"/>
<rect x="498" y="377" width="1" height="1" fill="#089981"/>
<rect x="497" y="377" width="3" height="1" fill="#089981"/>
<rect x="503" y="374" width="1" height="4" fill="#089981"/>
<rect x="502" y="375" width="3" height="3" fill="#089981"/>
<rect x="507" y="375" width="1" height="3" fill="#f23645"/>
<rect x="506" y="375" width="3" height="3" fill="#f23645"/>
<rect x="512" y="376" width="1" height="2" fill="#089981"/>
<rect x="511" y="377" width="3" height="1" fill="#089981"/>
<rect x="516" y="376" width="1" height="2" fill="#f23645"/>
<rect x="515" y="377" width="3" height="1" fill="#f23645"/>
<rect x="521" y="376" width="1" height="1" fill="#089981"/>
<rect x="520" y="376" width="3" height="1" fill="#089981"/>
<rect x="525" y="376" width="1" height="1" fill="#089981"/>
<rect x="524" y="376" width="3" height="1" fill="#089981"/>
<rect x="530" y="376" width="1" height="2" fill="#f23645"/>
<rect x="529" y="376" width="3" height="1" fill="#f23645"/>
<rect x="534" y="377" width="1" height="1" fill="#f23645"/>
<rect x="533" y="377" width="3" height="1" fill="#f23645"/>
<rect x="539" y="377" width="1" height="2" fill="#f23645"/>
<rect x="538" y="378" width="3" height="1" fill="#f23645"/>
<rect x="543" y="378" width="1" height="1" fill="#089981"/>
<rect x="542" y="378" width="3" height="1" fill="#089981"/>
<rect x="548" y="376" width="1" height="3" fill="#089981"/>
<rect x="547" y="377" width="3" height="2" fill="#089981"/>
<rect x="552" y="376" width="1" height="2" fill="#f23645"/>
<rect x="551" y="377" width="3" height="1" fill="#f23645"/>
<rect x="557" y="375" width="1" height="3" fill="#089981"/>
<rect x="556" y="376" width="3" height="2" fill="#089981"/>
<rect x="561" y="368" width="1" height="9" fill="#089981"/>
<rect x="560" y="370" width="3" height="7" fill="#089981"/>
<rect x="566" y="368" width="1" height="3" fill="#f23645"/>
<rect x="565" y="370" width="3" height="1" fill="#f23645"/>
<rect x="570" y="369" width="1" height="3" fill="#089981"/>
<rect x="569" y="369" width="3" height="2" fill="#089981"/>
<rect x="575" y="368" width="1" height="4" fill="#f23645"/>
<rect x="574" y="369" width="3" height="3" fill="#f23645"/>
<rect x="579" y="370" width="1" height="3" fill="#f23645"/>
<rect x="578" y="371" width="3" height="1" fill="#f23645"/>
<rect x="584" y="369" width="1" height="6" fill="#f23645"/>
<rect x="583" y="371" width="3" height="4" fill="#f23645"/>
<rect x="588" y="373" width="1" height="2" fill="#089981"/>
<rect x="587" y="374" width="3" height="1" fill="#089981"/>
<rect x="593" y="372" width="1" height="2" fill="#089981"/>
<rect x="592" y="373" width="3" height="1" fill="#089981"/>
<rect x="597" y="373" width="1" height="2" fill="#f23645"/>
<rect x="596" y="373" width="3" height="1" fill="#f23645"/>
<rect x="602" y="373" width="1" height="2" fill="#089981"/>
<rect x="601" y="373" width="3" height="1" fill="#089981"/>
<rect x="606" y="372" width="1" height="2" fill="#089981"/>
<rect x="605" y="373" width="3" height="1" fill="#089981"/>
<rect x="611" y="372" width="1" height="2" fill="#f23645"/>
<rect x="610" y="373" width="3" height="1" fill="#f23645"/>
<rect x="615" y="372" width="1" height="2" fill="#089981"/>
<rect x="614" y="373" width="3" height="1" fill="#089981"/>
<rect x="620" y="372" width="1" height="2" fill="#f23645"/>
<rect x="619" y="373" width="3" height="1" fill="#f23645"/>
<rect x="624" y="372" width="1" height="3" fill="#089981"/>
<rect x="623" y="373" width="3" height="1" fill="#089981"/>
<rect x="629" y="371" width="1" height="3" fill="#089981"/>
<rect x="628" y="372" width="3" height="2" fill="#089981"/>
<rect x="633" y="356" width="1" height="17" fill="#089981"/>
<rect x="632" y="359" width="3" height="14" fill="#089981"/>
<rect x="638" y="336" width="1" height="24" fill="#089981"/>
<rect x="637" y="348" width="3" height="12" fill="#089981"/>
<rect x="642" y="343" width="1" height="9" fill="#089981"/>
<rect x="641" y="347" width="3" height="2" fill="#089981"/>
<rect x="647" y="347" width="1" height="10" fill="#f23645"/>
<rect x="646" y="347" width="3" height="9" fill="#f23645"/>
<rect x="651" y="344" width="1" height="16" fill="#089981"/>
<rect x="650" y="352" width="3" height="4" fill="#089981"/>
<rect x="656" y="351" width="1" height="25" fill="#f23645"/>
<rect x="655" y="352" width="3" height="20" fill="#f23645"/>
<rect x="661" y="369" width="1" height="9" fill="#f23645"/>
<rect x="660" y="371" width="3" height="5" fill="#f23645"/>
<rect x="665" y="365" width="1" height="11" fill="#089981"/>
<rect x="664" y="369" width="3" height="7" fill="#089981"/>
<rect x="670" y="368" width="1" height="5" fill="#f23645"/>
<rect x="669" y="369" width="3" height="3" fill="#f23645"/>
<rect x="674" y="367" width="1" height="7" fill="#f23645"/>
<rect x="673" y="371" width="3" height="1" fill="#f23645"/>
<rect x="679" y="354" width="1" height="20" fill="#089981"/>
<rect x="678" y="356" width="3" height="16" fill="#089981"/>
<rect x="683" y="338" width="1" height="29" fill="#f23645"/>
<rect x="682" y="356" width="3" height="6" fill="#f23645"/>
<rect x="688" y="345" width="1" height="17" fill="#089981"/>
<rect x="687" y="349" width="3" height="13" fill="#089981"/>
<rect x="692" y="348" width="1" height="9" fill="#f23645"/>
<rect x="691" y="349" width="3" height="4" fill="#f23645"/>
<rect x="697" y="345" width="1" height="20" fill="#f23645"/>
<rect x="696" y="352" width="3" height="10" fill="#f23645"/>
<rect x="701" y="356" width="1" height="6" fill="#089981"/>
<rect x="700" y="358" width="3" height="4" fill="#089981"/>
<rect x="706" y="356" width="1" height="5" fill="#f23645"/>
<rect x="705" y="358" width="3" height="3" fill="#f23645"/>
<rect x="710" y="352" width="1" height="9" fill="#089981"/>
<rect x="709" y="353" width="3" height="8" fill="#089981"/>
<rect x="715" y="348" width="1" height="11" fill="#089981"/>
<rect x="714" y="352" width="3" height="3" fill="#089981"/>
<rect x="719" y="345" width="1" height="8" fill="#089981"/>
<rect x="718" y="346" width="3" height="7" fill="#089981"/>
<rect x="724" y="285" width="1" height="62" fill="#089981"/>
<rect x="723" y="296" width="3" height="51" fill="#089981"/>
<rect x="728" y="252" width="1" height="57" fill="#089981"/>
<rect x="727" y="292" width="3" height="5" fill="#089981"/>
<rect x="733" y="283" width="1" height="45" fill="#f23645"/>
<rect x="732" y="292" width="3" height="27" fill="#f23645"/>
<rect x="737" y="273" width="1" height="46" fill="#089981"/>
<rect x="736" y="281" width="3" height="38" fill="#089981"/>
<rect x="742" y="266" width="1" height="32" fill="#f23645"/>
<rect x="741" y="281" width="3" height="3" fill="#f23645"/>
<rect x="746" y="276" width="1" height="30" fill="#f23645"/>
<rect x="745" y="283" width="3" height="7" fill="#f23645"/>
<rect x="751" y="271" width="1" height="74" fill="#f23645"/>
<rect x="750" y="289" width="3" height="47" fill="#f23645"/>
<rect x="755" y="315" width="1" height="23" fill="#089981"/>
<rect x="754" y="327" width="3" height="9" fill="#089981"/>
<rect x="760" y="313" width="1" height="16" fill="#089981"/>
<rect x="759" y="324" width="3" height="5" fill="#089981"/>
<rect x="764" y="322" width="1" height="14" fill="#f23645"/>
<rect x="763" y="324" width="3" height="6" fill="#f23645"/>
<rect x="769" y="325" width="1" height="17" fill="#f23645"/>
<rect x="768" y="329" width="3" height="8" fill="#f23645"/>
<rect x="773" y="336" width="1" height="19" fill="#f23645"/>
<rect x="772" y="336" width="3" height="10" fill="#f23645"/>
<rect x="778" y="339" width="1" height="8" fill="#089981"/>
<rect x="777" y="342" width="3" height="4" fill="#089981"/>
<rect x="782" y="342" width="1" height="7" fill="#f23645"/>
<rect x="781" y="342" width="3" height="5" fill="#f23645"/>
<rect x="787" y="344" width="1" height="7" fill="#f23645"/>
<rect x="786" y="346" width="3" height="4" fill="#f23645"/>
<rect x="791" y="347" width="1" height="7" fill="#089981"/>
<rect x="790" y="348" width="3" height="2" fill="#089981"/>
<rect x="796" y="336" width="1" height="13" fill="#089981"/>
<rect x="795" y="340" width="3" height="9" fill="#089981"/>
<rect x="800" y="331" width="1" height="11" fill="#089981"/>
<rect x="799" y="336" width="3" height="5" fill="#089981"/>
<rect x="805" y="296" width="1" height="41" fill="#089981"/>
<rect x="804" y="300" width="3" height="37" fill="#089981"/>
<rect x="809" y="297" width="1" height="20" fill="#f23645"/>
<rect x="808" y="300" width="3" height="5" fill="#f23645"/>
<rect x="814" y="299" width="1" height="18" fill="#f23645"/>
<rect x="813" y="304" width="3" height="7" fill="#f23645"/>
<rect x="818" y="298" width="1" height="16" fill="#089981"/>
<rect x="817" y="299" width="3" height="12" fill="#089981"/>
<rect x="823" y="291" width="1" height="33" fill="#f23645"/>
<rect x="822" y="299" width="3" height="14" fill="#f23645"/>
<rect x="827" y="311" width="1" height="8" fill="#f23645"/>
<rect x="826" y="312" width="3" height="6" fill="#f23645"/>
<rect x="832" y="317" width="1" height="13" fill="#f23645"/>
<rect x="831" y="317" width="3" height="8" fill="#f23645"/>
<rect x="836" y="314" width="1" height="14" fill="#089981"/>
<rect x="835" y="315" width="3" height="10" fill="#089981"/>
<rect x="841" y="304" width="1" height="16" fill="#089981"/>
<rect x="840" y="311" width="3" height="6" fill="#089981"/>
<rect x="845" y="307" width="1" height="12" fill="#f23645"/>
<rect x="844" y="311" width="3" height="4" fill="#f23645"/>
<rect x="850" y="309" width="1" height="8" fill="#f23645"/>
<rect x="849" y="314" width="3" height="1" fill="#f23645"/>
<rect x="854" y="309" width="1" height="15" fill="#089981"/>
<rect x="853" y="312" width="3" height="4" fill="#089981"/>
<rect x="859" y="302" width="1" height="13" fill="#089981"/>
<rect x="858" y="305" width="3" height="8" fill="#089981"/>
<rect x="863" y="296" width="1" height="16" fill="#f23645"/>
<rect x="862" y="305" width="3" height="3" fill="#f23645"/>
<rect x="868" y="305" width="1" height="14" fill="#f23645"/>
<rect x="867" y="307" width="3" height="10" fill="#f23645"/>
<rect x="872" y="315" width="1" height="14" fill="#f23645"/>
<rect x="871" y="316" width="3" height="7" fill="#f23645"/>
<rect x="877" y="318" width="1" height="30" fill="#f23645"/>
<rect x="876" y="322" width="3" height="13" fill="#f23645"/>
<rect x="882" y="325" width="1" height="13" fill="#089981"/>
<rect x="881" y="332" width="3" height="3" fill="#089981"/>
<rect x="886" y="331" width="1" height="6" fill="#f23645"/>
<rect x="885" y="332" width="3" height="1" fill="#f23645"/>
<rect x="891" y="319" width="1" height="14" fill="#089981"/>
<rect x="890" y="326" width="3" height="7" fill="#089981"/>
<rect x="895" y="323" width="1" height="11" fill="#f23645"/>
<rect x="894" y="326" width="3" height="5" fill="#f23645"/>
<rect x="900" y="330" width="1" height="11" fill="#f23645"/>
<rect x="899" y="330" width="3" height="9" fill="#f23645"/>
<rect x="904" y="333" width="1" height="9" fill="#089981"/>
<rect x="903" y="336" width="3" height="3" fill="#089981"/>
<rect x="909" y="336" width="1" height="16" fill="#f23645"/>
<rect x="908" y="336" width="3" height="11" fill="#f23645"/>
<rect x="913" y="344" width="1" height="8" fill="#f23645"/>
<rect x="912" y="346" width="3" height="4" fill="#f23645"/>
<rect x="918" y="342" width="1" height="8" fill="#089981"/>
<rect x="917" y="343" width="3" height="6" fill="#089981"/>
<rect x="922" y="326" width="1" height="18" fill="#089981"/>
<rect x="921" y="334" width="3" height="10" fill="#089981"/>
<rect x="927" y="330" width="1" height="8" fill="#f23645"/>
<rect x="926" y="334" width="3" height="3" fill="#f23645"/>
<rect x="931" y="335" width="1" height="12" fill="#f23645"/>
<rect x="930" y="336" width="3" height="5" fill="#f23645"/>
<rect x="936" y="334" width="1" height="8" fill="#089981"/>
<rect x="935" y="340" width="3" height="1" fill="#089981"/>
<rect x="940" y="331" width="1" height="10" fill="#089981"/>
<rect x="939" y="337" width="3" height="4" fill="#089981"/>
<rect x="945" y="332" width="1" height="6" fill="#089981"/>
<rect x="944" y="334" width="3" height="4" fill="#089981"/>
<rect x="949" y="330" width="1" height="5" fill="#089981"/>
<rect x="948" y="330" width="3" height="5" fill="#089981"/>
<rect x="954" y="325" width="1" height="11" fill="#f23645"/>
<rect x="953" y="330" width="3" height="2" fill="#f23645"/>
<rect x="958" y="331" width="1" height="8" fill="#f23645"/>
<rect x="957" y="331" width="3" height="8" fill="#f23645"/>
<rect x="963" y="334" width="1" height="9" fill="#f23645"/>
<rect x="962" y="338" width="3" height="1" fill="#f23645"/>
<rect x="967" y="335" width="1" height="8" fill="#f23645"/>
<rect x="966" y="338" width="3" height="5" fill="#f23645"/>
<rect x="972" y="341" width="1" height="10" fill="#f23645"/>
<rect x="971" y="342" width="3" height="7" fill="#f23645"/>
<rect x="976" y="344" width="1" height="8" fill="#f23645"/>
<rect x="975" y="348" width="3" height="4" fill="#f23645"/>
<rect x="981" y="350" width="1" height="17" fill="#f23645"/>
<rect x="980" y="351" width="3" height="9" fill="#f23645"/>
<rect x="985" y="359" width="1" height="4" fill="#f23645"/>
<rect x="984" y="359" width="3" height="3" fill="#f23645"/>
<rect x="990" y="360" width="1" height="4" fill="#f23645"/>
<rect x="989" y="361" width="3" height="3" fill="#f23645"/>
<rect x="994" y="360" width="1" height="4" fill="#089981"/>
<rect x="993" y="363" width="3" height="1" fill="#089981"/>
<rect x="999" y="361" width="1" height="7" fill="#f23645"/>
<rect x="998" y="363" width="3" height="5" fill="#f23645"/>
<rect x="1003" y="366" width="1" height="4" fill="#f23645"/>
<rect x="1002" y="367" width="3" height="2" fill="#f23645"/>
<rect x="1008" y="363" width="1" height="6" fill="#089981"/>
<rect x="1007" y="365" width="3" height="4" fill="#089981"/>
<rect x="1012" y="365" width="1" height="4" fill="#f23645"/>
<rect x="1011" y="365" width="3" height="4" fill="#f23645"/>
<rect x="1017" y="365" width="1" height="4" fill="#089981"/>
<rect x="1016" y="368" width="3" height="1" fill="#089981"/>
<rect x="1021" y="365" width="1" height="4" fill="#089981"/>
<rect x="1020" y="367" width="3" height="2" fill="#089981"/>
<rect x="1026" y="364" width="1" height="4" fill="#089981"/>
<rect x="1025" y="365" width="3" height="3" fill="#089981"/>
<rect x="1030" y="362" width="1" height="6" fill="#089981"/>
<rect x="1029" y="364" width="3" height="2" fill="#089981"/>
<rect x="1035" y="363" width="1" height="2" fill="#f23645"/>
<rect x="1034" y="364" width="3" height="1" fill="#f23645"/>
<rect x="1039" y="363" width="1" height="2" fill="#089981"/>
<rect x="1038" y="364" width="3" height="1" fill="#089981"/>
<rect x="1044" y="363" width="1" height="4" fill="#f23645"/>
<rect x="1043" y="364" width="3" height="3" fill="#f23645"/>
<rect x="1048" y="365" width="1" height="4" fill="#f23645"/>
<rect x="1047" y="366" width="3" height="3" fill="#f23645"/>
<rect x="1053" y="367" width="1" height="1" fill="#089981"/>
<rect x="1052" y="367" width="3" height="1" fill="#089981"/>
<rect x="1057" y="365" width="1" height="4" fill="#089981"/>
<rect x="1056" y="366" width="3" height="2" fill="#089981"/>
<rect x="1062" y="363" width="1" height="5" fill="#089981"/>
<rect x="1061" y="366" width="3" height="1" fill="#089981"/>
<rect x="1066" y="351" width="1" height="16" fill="#089981"/>
<rect x="1065" y="356" width="3" height="10" fill="#089981"/>
<rect x="1071" y="355" width="1" height="6" fill="#f23645"/>
<rect x="1070" y="356" width="3" height="4" fill="#f23645"/>
<rect x="1075" y="352" width="1" height="8" fill="#089981"/>
<rect x="1074" y="353" width="3" height="7" fill="#089981"/>
<rect x="1080" y="353" width="1" height="7" fill="#f23645"/>
<rect x="1079" y="353" width="3" height="5" fill="#f23645"/>
<rect x="1084" y="357" width="1" height="4" fill="#f23645"/>
<rect x="1083" y="357" width="3" height="1" fill="#f23645"/>
<rect x="1089" y="357" width="1" height="2" fill="#f23645"/>
<rect x="1088" y="358" width="3" height="1" fill="#f23645"/>
<rect x="1093" y="355" width="1" height="4" fill="#089981"/>
<rect x="1092" y="358" width="3" height="1" fill="#089981"/>
<rect x="1098" y="357" width="1" height="11" fill="#f23645"/>
<rect x="1097" y="358" width="3" height="10" fill="#f23645"/>
<rect x="1103" y="363" width="1" height="5" fill="#089981"/>
<rect x="1102" y="365" width="3" height="3" fill="#089981"/>
<rect x="1107" y="361" width="1" height="5" fill="#089981"/>
<rect x="1106" y="363" width="3" height="3" fill="#089981"/>
<rect x="1112" y="362" width="1" height="2" fill="#f23645"/>
<rect x="1111" y="363" width="3" height="1" fill="#f23645"/>
<rect x="1116" y="363" width="1" height="1" fill="#f23645"/>
<rect x="1115" y="363" width="3" height="1" fill="#f23645"/>
<rect x="1121" y="363" width="1" height="4" fill="#f23645"/>
<rect x="1120" y="364" width="3" height="3" fill="#f23645"/>
<rect x="1125" y="366" width="1" height="1" fill="#f23645"/>
<rect x="1124" y="366" width="3" height="1" fill="#f23645"/>
<rect x="1130" y="364" width="1" height="3" fill="#f23645"/>
<rect x="1129" y="366" width="3" height="1" fill="#f23645"/>
<rect x="1134" y="365" width="1" height="5" fill="#089981"/>
<rect x="1133" y="366" width="3" height="1" fill="#089981"/>
<rect x="1139" y="362" width="1" height="5" fill="#089981"/>
<rect x="1138" y="364" width="3" height="3" fill="#089981"/>
<rect x="1143" y="361" width="1" height="4" fill="#089981"/>
<rect x="1142" y="362" width="3" height="3" fill="#089981"/>
<rect x="1148" y="360" width="1" height="3" fill="#089981"/>
<rect x="1147" y="362" width="3" height="1" fill="#089981"/>
<rect x="1152" y="361" width="1" height="3" fill="#f23645"/>
<rect x="1151" y="362" width="3" height="2" fill="#f23645"/>
<rect x="1157" y="362" width="1" height="3" fill="#f23645"/>
<rect x="1156" y="363" width="3" height="2" fill="#f23645"/>
<rect x="1161" y="362" width="1" height="3" fill="#089981"/>
<rect x="1160" y="363" width="3" height="1" fill="#089981"/>
<rect x="1166" y="362" width="1" height="3" fill="#f23645"/>
<rect x="1165" y="363" width="3" height="1" fill="#f23645"/>
<rect x="1170" y="364" width="1" height="2" fill="#f23645"/>
<rect x="1169" y="364" width="3" height="1" fill="#f23645"/>
<rect x="1175" y="362" width="1" height="4" fill="#089981"/>
<rect x="1174" y="365" width="3" height="1" fill="#089981"/>
<rect x="1179" y="363" width="1" height="3" fill="#089981"/>
<rect x="1178" y="364" width="3" height="2" fill="#089981"/>
<rect x="1184" y="356" width="1" height="9" fill="#089981"/>
<rect x="1183" y="359" width="3" height="6" fill="#089981"/>
<rect x="1188" y="349" width="1" height="11" fill="#089981"/>
<rect x="1187" y="354" width="3" height="6" fill="#089981"/>
<rect x="1193" y="354" width="1" height="3" fill="#f23645"/>
<rect x="1192" y="354" width="3" height="1" fill="#f23645"/>
<rect x="1197" y="352" width="1" height="4" fill="#089981"/>
<rect x="1196" y="354" width="3" height="2" fill="#089981"/>
<rect x="1202" y="353" width="1" height="7" fill="#f23645"/>
<rect x="1201" y="354" width="3" height="5" fill="#f23645"/>
<rect x="1206" y="356" width="1" height="4" fill="#089981"/>
<rect x="1205" y="358" width="3" height="1" fill="#089981"/>
<rect x="1211" y="357" width="1" height="3" fill="#f23645"/>
<rect x="1210" y="358" width="3" height="2" fill="#f23645"/>
<rect x="1215" y="359" width="1" height="3" fill="#f23645"/>
<rect x="1214" y="359" width="3" height="3" fill="#f23645"/>
<rect x="1220" y="357" width="1" height="5" fill="#089981"/>
<rect x="1219" y="358" width="3" height="4" fill="#089981"/>
<rect x="1224" y="356" width="1" height="3" fill="#089981"/>
<rect x="1223" y="357" width="3" height="2" fill="#089981"/>
<rect x="1229" y="352" width="1" height="6" fill="#089981"/>
<rect x="1228" y="353" width="3" height="5" fill="#089981"/>
<rect x="1233" y="352" width="1" height="5" fill="#f23645"/>
<rect x="1232" y="353" width="3" height="2" fill="#f23645"/>
<rect x="1238" y="351" width="1" height="8" fill="#f23645"/>
<rect x="1237" y="354" width="3" height="4" fill="#f23645"/>
<rect x="1242" y="354" width="1" height="3" fill="#089981"/>
<rect x="1241" y="356" width="3" height="1" fill="#089981"/>
<rect x="1247" y="356" width="1" height="3" fill="#f23645"/>
<rect x="1246" y="356" width="3" height="1" fill="#f23645"/>
<rect x="1251" y="356" width="1" height="3" fill="#f23645"/>
<rect x="1250" y="357" width="3" height="2" fill="#f23645"/>
<rect x="1256" y="325" width="1" height="34" fill="#089981"/>
<rect x="1255" y="338" width="3" height="21" fill="#089981"/>
<rect x="1260" y="331" width="1" height="10" fill="#f23645"/>
<rect x="1259" y="338" width="3" height="1" fill="#f23645"/>
<rect x="1265" y="338" width="1" height="5" fill="#f23645"/>
<rect x="1264" y="338" width="3" height="4" fill="#f23645"/>
<rect x="1269" y="340" width="1" height="8" fill="#f23645"/>
<rect x="1268" y="341" width="3" height="7" fill="#f23645"/>
<rect x="1274" y="344" width="1" height="5" fill="#089981"/>
<rect x="1273" y="346" width="3" height="1" fill="#089981"/>
<rect x="1278" y="346" width="1" height="15" fill="#f23645"/>
<rect x="1277" y="347" width="3" height="7" fill="#f23645"/>
<rect x="1283" y="353" width="1" height="2" fill="#f23645"/>
<rect x="1282" y="353" width="3" height="2" fill="#f23645"/>
<rect x="1287" y="352" width="1" height="4" fill="#f23645"/>
<rect x="1286" y="354" width="3" height="2" fill="#f23645"/>
<rect x="1292" y="355" width="1" height="1" fill="#f23645"/>
<rect x="1291" y="355" width="3" height="1" fill="#f23645"/>
<rect x="1296" y="355" width="1" height="3" fill="#f23645"/>
<rect x="1295" y="356" width="3" height="1" fill="#f23645"/>
<rect x="1301" y="354" width="1" height="2" fill="#089981"/>
<rect x="1300" y="355" width="3" height="1" fill="#089981"/>
<rect x="1305" y="352" width="1" height="4" fill="#089981"/>
<rect x="1304" y="354" width="3" height="2" fill="#089981"/>
<rect x="1310" y="352" width="1" height="3" fill="#f23645"/>
<rect x="1309" y="354" width="3" height="1" fill="#f23645"/>
<rect x="1314" y="354" width="1" height="3" fill="#f23645"/>
<rect x="1313" y="354" width="3" height="3" fill="#f23645"/>
<rect x="1319" y="353" width="1" height="4" fill="#089981"/>
<rect x="1318" y="354" width="3" height="3" fill="#089981"/>
<rect x="1324" y="349" width="1" height="6" fill="#089981"/>
<rect x="1323" y="352" width="3" height="3" fill="#089981"/>
<rect x="1328" y="344" width="1" height="9" fill="#089981"/>
<rect x="1327" y="344" width="3" height="9" fill="#089981"/>
<rect x="1333" y="339" width="1" height="7" fill="#089981"/>
<rect x="1332" y="344" width="3" height="1" fill="#089981"/>
<rect x="1337" y="338" width="1" height="11" fill="#f23645"/>
<rect x="1336" y="344" width="3" height="4" fill="#f23645"/>
<rect x="1342" y="346" width="1" height="4" fill="#f23645"/>
<rect x="1341" y="347" width="3" height="1" fill="#f23645"/>
<rect x="1346" y="346" width="1" height="3" fill="#089981"/>
<rect x="1345" y="347" width="3" height="1" fill="#089981"/>
<rect x="1351" y="341" width="1" height="9" fill="#089981"/>
<rect x="1350" y="344" width="3" height="4" fill="#089981"/>
<rect x="1355" y="344" width="1" height="5" fill="#f23645"/>
<rect x="1354" y="344" width="3" height="5" fill="#f23645"/>
<rect x="1360" y="346" width="1" height="4" fill="#089981"/>
<rect x="1359" y="348" width="3" height="1" fill="#089981"/>
<rect x="1364" y="344" width="1" height="4" fill="#089981"/>
<rect x="1363" y="347" width="3" height="1" fill="#089981"/>
<rect x="1369" y="346" width="1" height="9" fill="#f23645"/>
<rect x="1368" y="347" width="3" height="6" fill="#f23645"/>
<rect x="1373" y="347" width="1" height="6" fill="#089981"/>
<rect x="1372" y="350" width="3" height="3" fill="#089981"/>
<rect x="1378" y="349" width="1" height="5" fill="#f23645"/>
<rect x="1377" y="350" width="3" height="3" fill="#f23645"/>
<rect x="1382" y="352" width="1" height="4" fill="#f23645"/>
<rect x="1381" y="352" width="3" height="3" fill="#f23645"/>
<rect x="1387" y="353" width="1" height="4" fill="#f23645"/>
<rect x="1386" y="354" width="3" height="2" fill="#f23645"/>
<rect x="1391" y="353" width="1" height="3" fill="#089981"/>
<rect x="1390" y="354" width="3" height="2" fill="#089981"/>
<rect x="1396" y="350" width="1" height="5" fill="#089981"/>
<rect x="1395" y="351" width="3" height="4" fill="#089981"/>
<rect x="1400" y="350" width="1" height="4" fill="#f23645"/>
<rect x="1399" y="351" width="3" height="2" fill="#f23645"/>
<rect x="1405" y="345" width="1" height="8" fill="#089981"/>
<rect x="1404" y="347" width="3" height="6" fill="#089981"/>
<rect x="1409" y="344" width="1" height="9" fill="#f23645"/>
<rect x="1408" y="347" width="3" height="2" fill="#f23645"/>
<rect x="1414" y="338" width="1" height="12" fill="#089981"/>
<rect x="1413" y="347" width="3" height="1" fill="#089981"/>
<rect x="1418" y="344" width="1" height="7" fill="#089981"/>
<rect x="1417" y="346" width="3" height="1" fill="#089981"/>
<rect x="1423" y="344" width="1" height="4" fill="#f23645"/>
<rect x="1422" y="346" width="3" height="1" fill="#f23645"/>
<rect x="1427" y="346" width="1" height="5" fill="#f23645"/>
<rect x="1426" y="346" width="3" height="4" fill="#f23645"/>
<rect x="1432" y="345" width="1" height="16" fill="#f23645"/>
<rect x="1431" y="349" width="3" height="7" fill="#f23645"/>
<rect x="1436" y="353" width="1" height="5" fill="#089981"/>
<rect x="1435" y="354" width="3" height="2" fill="#089981"/>
<rect x="1441" y="350" width="1" height="6" fill="#f23645"/>
<rect x="1440" y="354" width="3" height="2" fill="#f23645"/>
<rect x="1445" y="353" width="1" height="4" fill="#089981"/>
<rect x="1444" y="353" width="3" height="3" fill="#089981"/>
<rect x="1450" y="351" width="1" height="6" fill="#f23645"/>
<rect x="1449" y="353" width="3" height="4" fill="#f23645"/>
<rect x="1454" y="353" width="1" height="3" fill="#089981"/>
<rect x="1453" y="355" width="3" height="1" fill="#089981"/>
<rect x="1459" y="351" width="1" height="5" fill="#089981"/>
<rect x="1458" y="353" width="3" height="3" fill="#089981"/>
<rect x="1463" y="353" width="1" height="3" fill="#f23645"/>
<rect x="1462" y="353" width="3" height="3" fill="#f23645"/>
<rect x="1468" y="353" width="1" height="6" fill="#f23645"/>
<rect x="1467" y="356" width="3" height="1" fill="#f23645"/>
<rect x="1472" y="355" width="1" height="3" fill="#f23645"/>
<rect x="1471" y="356" width="3" height="1" fill="#f23645"/>
<rect x="1477" y="354" width="1" height="4" fill="#f23645"/>
<rect x="1476" y="356" width="3" height="1" fill="#f23645"/>
<rect x="1481" y="357" width="1" height="1" fill="#f23645"/>
<rect x="1480" y="357" width="3" height="1" fill="#f23645"/>
<rect x="1486" y="356" width="1" height="8" fill="#f23645"/>
<rect x="1485" y="357" width="3" height="5" fill="#f23645"/>
<rect x="1490" y="351" width="1" height="11" fill="#089981"/>
<rect x="1489" y="354" width="3" height="8" fill="#089981"/>
<rect x="1495" y="346" width="1" height="9" fill="#089981"/>
<rect x="1494" y="349" width="3" height="6" fill="#089981"/>
<rect x="1499" y="346" width="1" height="4" fill="#089981"/>
<rect x="1498" y="348" width="3" height="1" fill="#089981"/>
<rect x="1504" y="344" width="1" height="11" fill="#f23645"/>
<rect x="1503" y="348" width="3" height="7" fill="#f23645"/>
<rect x="1508" y="345" width="1" height="15" fill="#089981"/>
<rect x="1507" y="352" width="3" height="3" fill="#089981"/>
<rect x="1513" y="350" width="1" height="2" fill="#089981"/>
<rect x="1512" y="351" width="3" height="1" fill="#089981"/>
<rect x="1517" y="346" width="1" height="6" fill="#089981"/>
<rect x="1516" y="348" width="3" height="4" fill="#089981"/>
<rect x="1522" y="348" width="1" height="5" fill="#f23645"/>
<rect x="1521" y="348" width="3" height="5" fill="#f23645"/>
<rect x="1526" y="350" width="1" height="5" fill="#f23645"/>
<rect x="1525" y="352" width="3" height="2" fill="#f23645"/>
<rect x="1531" y="348" width="1" height="6" fill="#089981"/>
<rect x="1530" y="351" width="3" height="3" fill="#089981"/>
<rect x="1535" y="348" width="1" height="4" fill="#089981"/>
<rect x="1534" y="349" width="3" height="3" fill="#089981"/>
<rect x="1540" y="344" width="1" height="6" fill="#089981"/>
<rect x="1539" y="346" width="3" height="4" fill="#089981"/>
<rect x="1545" y="345" width="1" height="10" fill="#f23645"/>
<rect x="1544" y="346" width="3" height="8" fill="#f23645"/>
<rect x="1549" y="352" width="1" height="2" fill="#f23645"/>
<rect x="1548" y="353" width="3" height="1" fill="#f23645"/>
<rect x="1554" y="351" width="1" height="3" fill="#089981"/>
<rect x="1553" y="352" width="3" height="2" fill="#089981"/>
<rect x="1558" y="351" width="1" height="5" fill="#f23645"/>
<rect x="1557" y="352" width="3" height="3" fill="#f23645"/>
<rect x="1563" y="353" width="1" height="3" fill="#f23645"/>
<rect x="1562" y="354" width="3" height="1" fill="#f23645"/>
<rect x="1567" y="347" width="1" height="9" fill="#089981"/>
<rect x="1566" y="349" width="3" height="7" fill="#089981"/>
<rect x="1572" y="301" width="1" height="50" fill="#089981"/>
<rect x="1571" y="316" width="3" height="34" fill="#089981"/>
<rect x="1576" y="276" width="1" height="41" fill="#089981"/>
<rect x="1575" y="290" width="3" height="27" fill="#089981"/>
<rect x="1581" y="225" width="1" height="75" fill="#089981"/>
<rect x="1580" y="229" width="3" height="62" fill="#089981"/>
<rect x="1585" y="186" width="1" height="52" fill="#089981"/>
<rect x="1584" y="208" width="3" height="22" fill="#089981"/>
<rect x="1590" y="207" width="1" height="50" fill="#f23645"/>
<rect x="1589" y="208" width="3" height="11" fill="#f23645"/>
<rect x="1594" y="199" width="1" height="54" fill="#f23645"/>
<rect x="1593" y="218" width="3" height="19" fill="#f23645"/>
<rect x="1599" y="225" width="1" height="20" fill="#f23645"/>
<rect x="1598" y="236" width="3" height="8" fill="#f23645"/>
<rect x="1603" y="214" width="1" height="36" fill="#089981"/>
<rect x="1602" y="222" width="3" height="22" fill="#089981"/>
<rect x="1608" y="207" width="1" height="29" fill="#089981"/>
<rect x="1607" y="214" width="3" height="9" fill="#089981"/>
<rect x="1612" y="151" width="1" height="76" fill="#089981"/>
<rect x="1611" y="182" width="3" height="33" fill="#089981"/>
<rect x="1617" y="154" width="1" height="32" fill="#089981"/>
<rect x="1616" y="178" width="3" height="5" fill="#089981"/>
<rect x="1621" y="164" width="1" height="54" fill="#f23645"/>
<rect x="1620" y="178" width="3" height="32" fill="#f23645"/>
<rect x="1626" y="195" width="1" height="71" fill="#f23645"/>
<rect x="1625" y="209" width="3" height="14" fill="#f23645"/>
<rect x="1630" y="191" width="1" height="36" fill="#089981"/>
<rect x="1629" y="199" width="3" height="24" fill="#089981"/>
<rect x="1635" y="196" width="1" height="21" fill="#f23645"/>
<rect x="1634" y="199" width="3" height="11" fill="#f23645"/>
<rect x="1639" y="180" width="1" height="73" fill="#089981"/>
<rect x="1638" y="184" width="3" height="26" fill="#089981"/>
<rect x="1644" y="182" width="1" height="62" fill="#f23645"/>
<rect x="1643" y="184" width="3" height="57" fill="#f23645"/>
<rect x="1648" y="216" width="1" height="41" fill="#089981"/>
<rect x="1647" y="229" width="3" height="12" fill="#089981"/>
<rect x="1653" y="208" width="1" height="26" fill="#089981"/>
<rect x="1652" y="219" width="3" height="11" fill="#089981"/>
<rect x="1657" y="214" width="1" height="32" fill="#f23645"/>
<rect x="1656" y="219" width="3" height="22" fill="#f23645"/>
<rect x="1662" y="234" width="1" height="19" fill="#f23645"/>
<rect x="1661" y="240" width="3" height="2" fill="#f23645"/>
<line x1="16" y1="241.5" x2="1724" y2="241.5" stroke="#f23645" stroke-width="1" stroke-dasharray="1 2"/>
<rect x="14" y="652" width="1710" height="1" fill="#f2f2f2" fill-opacity="0.06"/>
<line x1="14" y1="652.5" x2="1724" y2="652.5" stroke="#707070" stroke-width="1" stroke-dasharray="5 6" stroke-dashoffset="1"/>
<rect x="181" y="652" width="3" height="3" fill="#ff5252"/>
<rect x="185" y="652" width="3" height="2" fill="#ffcdd2"/>
<rect x="190" y="652" width="3" height="2" fill="#ffcdd2"/>
<rect x="194" y="652" width="3" height="2" fill="#ff5252"/>
<rect x="199" y="652" width="3" height="1" fill="#ffcdd2"/>
<rect x="203" y="652" width="3" height="1" fill="#ffcdd2"/>
<rect x="208" y="652" width="3" height="1" fill="#ffcdd2"/>
<rect x="212" y="652" width="3" height="1" fill="#ffcdd2"/>
<rect x="217" y="652" width="3" height="1" fill="#ffcdd2"/>
<rect x="222" y="652" width="3" height="1" fill="#ffcdd2"/>
<rect x="226" y="652" width="3" height="1" fill="#26a69a"/>
<rect x="231" y="652" width="3" height="1" fill="#26a69a"/>
<rect x="235" y="651" width="3" height="2" fill="#26a69a"/>
<rect x="240" y="651" width="3" height="2" fill="#26a69a"/>
<rect x="244" y="651" width="3" height="2" fill="#26a69a"/>
<rect x="249" y="651" width="3" height="2" fill="#26a69a"/>
<rect x="253" y="651" width="3" height="2" fill="#b2dfdb"/>
<rect x="258" y="651" width="3" height="2" fill="#b2dfdb"/>
<rect x="262" y="651" width="3" height="2" fill="#b2dfdb"/>
<rect x="267" y="651" width="3" height="2" fill="#b2dfdb"/>
<rect x="271" y="651" width="3" height="2" fill="#26a69a"/>
<rect x="276" y="650" width="3" height="3" fill="#26a69a"/>
<rect x="280" y="649" width="3" height="4" fill="#26a69a"/>
<rect x="285" y="649" width="3" height="4" fill="#26a69a"/>
<rect x="289" y="649" width="3" height="4" fill="#b2dfdb"/>
<rect x="294" y="649" width="3" height="4" fill="#26a69a"/>
<rect x="298" y="649" width="3" height="4" fill="#26a69a"/>
<rect x="303" y="650" width="3" height="3" fill="#b2dfdb"/>
<rect x="307" y="650" width="3" height="3" fill="#b2dfdb"/>
<rect x="312" y="652" width="3" height="1" fill="#b2dfdb"/>
<rect x="316" y="652" width="3" height="1" fill="#ff5252"/>
<rect x="321" y="652" width="3" height="1" fill="#ff5252"/>
<rect x="325" y="652" width="3" height="1" fill="#ff5252"/>
<rect x="330" y="652" width="3" height="2" fill="#ff5252"/>
<rect x="334" y="652" width="3" height="2" fill="#ff5252"/>
<rect x="339" y="652" width="3" height="2" fill="#ff5252"/>
<rect x="343" y="652" width="3" height="2" fill="#ff5252"/>
<rect x="348" y="652" width="3" height="2" fill="#ffcdd2"/>
<rect x="352" y="652" width="3" height="2" fill="#ffcdd2"/>
<rect x="357" y="652" width="3" height="2" fill="#ffcdd2"/>
<rect x="361" y="652" width="3" height="2" fill="#ff5252"/>
<rect x="366" y="652" width="3" height="2" fill="#ffcdd2"/>
<rect x="370" y="652" width="3" height="1" fill="#ffcdd2"/>
<rect x="375" y="652" width="3" height="1" fill="#ffcdd2"/>
<rect x="379" y="652" width="3" height="1" fill="#26a69a"/>
<rect x="384" y="652" width="3" height="1" fill="#26a69a"/>
<rect x="388" y="652" width="3" height="1" fill="#26a69a"/>
<rect x="393" y="652" width="3" height="1" fill="#b2dfdb"/>
<rect x="397" y="652" width="3" height="1" fill="#ff5252"/>
<rect x="402" y="652" width="3" height="1" fill="#ff5252"/>
<rect x="406" y="652" width="3" height="1" fill="#ff5252"/>
<rect x="411" y="652" width="3" height="1" fill="#ff5252"/>
<rect x="415" y="652" width="3" height="1" fill="#ff5252"/>
<rect x="420" y="652" width="3" height="1" fill="#ffcdd2"/>
<rect x="424" y="652" width="3" height="1" fill="#ff5252"/>
<rect x="429" y="652" width="3" height="1" fill="#ffcdd2"/>
<rect x="433" y="652" width="3" height="1" fill="#26a69a"/>
<rect x="438" y="652" width="3" height="1" fill="#26a69a"/>
<rect x="443" y="651" width="3" height="2" fill="#26a69a"/>
<rect x="447" y="651" width="3" height="2" fill="#26a69a"/>
<rect x="452" y="650" width="3" height="3" fill="#26a69a"/>
<rect x="456" y="650" width="3" height="3" fill="#26a69a"/>
<rect x="461" y="651" width="3" height="2" fill="#b2dfdb"/>
<rect x="465" y="652" width="3" height="1" fill="#b2dfdb"/>
<rect x="470" y="652" width="3" height="1" fill="#ff5252"/>
<rect x="474" y="652" width="3" height="1" fill="#ff5252"/>
<rect x="479" y="652" width="3" height="1" fill="#ffcdd2"/>
<rect x="483" y="652" width="3" height="1" fill="#ffcdd2"/>
<rect x="488" y="652" width="3" height="1" fill="#ffcdd2"/>
<rect x="492" y="652" width="3" height="1" fill="#ffcdd2"/>
<rect x="497" y="652" width="3" height="1" fill="#26a69a"/>
<rect x="501" y="652" width="3" height="1" fill="#26a69a"/>
<rect x="506" y="652" width="3" height="1" fill="#b2dfdb"/>
<rect x="510" y="652" width="3" height="1" fill="#26a69a"/>
<rect x="515" y="652" width="3" height="1" fill="#b2dfdb"/>
<rect x="519" y="652" width="3" height="1" fill="#26a69a"/>
<rect x="524" y="652" width="3" height="1" fill="#26a69a"/>
<rect x="528" y="652" width="3" height="1" fill="#b2dfdb"/>
<rect x="533" y="652" width="3" height="1" fill="#b2dfdb"/>
<rect x="537" y="652" width="3" height="1" fill="#b2dfdb"/>
<rect x="542" y="652" width="3" height="1" fill="#b2dfdb"/>
<rect x="546" y="652" width="3" height="1" fill="#26a69a"/>
<rect x="551" y="652" width="3" height="1" fill="#b2dfdb"/>
<rect x="555" y="652" width="3" height="1" fill="#26a69a"/>
<rect x="560" y="651" width="3" height="2" fill="#26a69a"/>
<rect x="564" y="650" width="3" height="3" fill="#26a69a"/>
<rect x="569" y="650" width="3" height="3" fill="#26a69a"/>
<rect x="573" y="650" width="3" height="3" fill="#b2dfdb"/>
<rect x="578" y="650" width="3" height="3" fill="#b2dfdb"/>
<rect x="582" y="651" width="3" height="2" fill="#b2dfdb"/>
<rect x="587" y="651" width="3" height="2" fill="#b2dfdb"/>
<rect x="591" y="652" width="3" height="1" fill="#b2dfdb"/>
<rect x="596" y="652" width="3" height="1" fill="#b2dfdb"/>
<rect x="600" y="652" width="3" height="1" fill="#b2dfdb"/>
<rect x="605" y="652" width="3" height="1" fill="#b2dfdb"/>
<rect x="609" y="652" width="3" height="1" fill="#b2dfdb"/>
<rect x="614" y="652" width="3" height="1" fill="#b2dfdb"/>
<rect x="618" y="652" width="3" height="1" fill="#ff5252"/>
<rect x="623" y="652" width="3" height="1" fill="#ffcdd2"/>
<rect x="627" y="652" width="3" height="1" fill="#26a69a"/>
<rect x="632" y="650" width="3" height="3" fill="#26a69a"/>
<rect x="636" y="647" width="3" height="6" fill="#26a69a"/>
<rect x="641" y="645" width="3" height="8" fill="#26a69a"/>
<rect x="645" y="646" width="3" height="7" fill="#b2dfdb"/>
<rect x="650" y="646" width="3" height="7" fill="#b2dfdb"/>
<rect x="654" y="650" width="3" height="3" fill="#b2dfdb"/>
<rect x="659" y="652" width="3" height="1" fill="#ff5252"/>
<rect x="664" y="652" width="3" height="2" fill="#ff5252"/>
<rect x="668" y="652" width="3" height="3" fill="#ff5252"/>
<rect x="673" y="652" width="3" height="4" fill="#ff5252"/>
<rect x="677" y="652" width="3" height="1" fill="#ffcdd2"/>
<rect x="682" y="652" width="3" height="1" fill="#ffcdd2"/>
<rect x="686" y="651" width="3" height="2" fill="#26a69a"/>
<rect x="691" y="650" width="3" height="3" fill="#26a69a"/>
<rect x="695" y="651" width="3" height="2" fill="#b2dfdb"/>
<rect x="700" y="651" width="3" height="2" fill="#b2dfdb"/>
<rect x="704" y="652" width="3" height="1" fill="#b2dfdb"/>
<rect x="709" y="651" width="3" height="2" fill="#26a69a"/>
<rect x="713" y="651" width="3" height="2" fill="#26a69a"/>
<rect x="718" y="650" width="3" height="3" fill="#26a69a"/>
<rect x="722" y="641" width="3" height="12" fill="#26a69a"/>
<rect x="727" y="636" width="3" height="17" fill="#26a69a"/>
<rect x="731" y="638" width="3" height="15" fill="#b2dfdb"/>
<rect x="736" y="634" width="3" height="19" fill="#26a69a"/>
<rect x="740" y="634" width="3" height="19" fill="#26a69a"/>
<rect x="745" y="635" width="3" height="18" fill="#b2dfdb"/>
<rect x="749" y="645" width="3" height="8" fill="#b2dfdb"/>
<rect x="754" y="650" width="3" height="3" fill="#b2dfdb"/>
<rect x="758" y="652" width="3" height="1" fill="#ff5252"/>
<rect x="763" y="652" width="3" height="5" fill="#ff5252"/>
<rect x="767" y="652" width="3" height="8" fill="#ff5252"/>
<rect x="772" y="652" width="3" height="11" fill="#ff5252"/>
<rect x="776" y="652" width="3" height="12" fill="#ff5252"/>
<rect x="781" y="652" width="3" height="13" fill="#ff5252"/>
<rect x="785" y="652" width="3" height="14" fill="#ff5252"/>
<rect x="790" y="652" width="3" height="14" fill="#ffcdd2"/>
<rect x="794" y="652" width="3" height="12" fill="#ffcdd2"/>
<rect x="799" y="652" width="3" height="9" fill="#ffcdd2"/>
<rect x="803" y="652" width="3" height="2" fill="#ffcdd2"/>
<rect x="808" y="650" width="3" height="3" fill="#26a69a"/>
<rect x="812" y="648" width="3" height="5" fill="#26a69a"/>
<rect x="817" y="646" width="3" height="7" fill="#26a69a"/>
<rect x="821" y="647" width="3" height="6" fill="#b2dfdb"/>
<rect x="826" y="649" width="3" height="4" fill="#b2dfdb"/>
<rect x="830" y="652" width="3" height="1" fill="#b2dfdb"/>
<rect x="835" y="652" width="3" height="1" fill="#b2dfdb"/>
<rect x="839" y="652" width="3" height="1" fill="#26a69a"/>
<rect x="844" y="652" width="3" height="1" fill="#ff5252"/>
<rect x="848" y="652" width="3" height="1" fill="#ff5252"/>
<rect x="853" y="652" width="3" height="1" fill="#ffcdd2"/>
<rect x="857" y="652" width="3" height="1" fill="#26a69a"/>
<rect x="862" y="652" width="3" height="1" fill="#b2dfdb"/>
<rect x="866" y="652" width="3" height="1" fill="#ff5252"/>
<rect x="871" y="652" width="3" height="4" fill="#ff5252"/>
<rect x="875" y="652" width="3" height="7" fill="#ff5252"/>
<rect x="880" y="652" width="3" height="8" fill="#ff5252"/>
<rect x="885" y="652" width="3" height="9" fill="#ff5252"/>
<rect x="889" y="652" width="3" height="8" fill="#ffcdd2"/>
<rect x="894" y="652" width="3" height="7" fill="#ffcdd2"/>
<rect x="898" y="652" width="3" height="8" fill="#ff5252"/>
<rect x="903" y="652" width="3" height="8" fill="#ffcdd2"/>
<rect x="907" y="652" width="3" height="9" fill="#ff5252"/>
<rect x="912" y="652" width="3" height="10" fill="#ff5252"/>
<rect x="916" y="652" width="3" height="9" fill="#ffcdd2"/>
<rect x="921" y="652" width="3" height="6" fill="#ffcdd2"/>
<rect x="925" y="652" width="3" height="4" fill="#ffcdd2"/>
<rect x="930" y="652" width="3" height="4" fill="#ffcdd2"/>
<rect x="934" y="652" width="3" height="3" fill="#ffcdd2"/>
<rect x="939" y="652" width="3" height="2" fill="#ffcdd2"/>
<rect x="943" y="652" width="3" height="1" fill="#ffcdd2"/>
<rect x="948" y="651" width="3" height="2" fill="#26a69a"/>
<rect x="952" y="650" width="3" height="3" fill="#26a69a"/>
<rect x="957" y="651" width="3" height="2" fill="#b2dfdb"/>
<rect x="961" y="651" width="3" height="2" fill="#b2dfdb"/>
<rect x="966" y="652" width="3" height="1" fill="#b2dfdb"/>
<rect x="970" y="652" width="3" height="2" fill="#ff5252"/>
<rect x="975" y="652" width="3" height="3" fill="#ff5252"/>
<rect x="979" y="652" width="3" height="5" fill="#ff5252"/>
<rect x="984" y="652" width="3" height="6" fill="#ff5252"/>
<rect x="988" y="652" width="3" height="6" fill="#ff5252"/>
<rect x="993" y="652" width="3" height="6" fill="#ffcdd2"/>
<rect x="997" y="652" width="3" height="7" fill="#ff5252"/>
<rect x="1002" y="652" width="3" height="6" fill="#ffcdd2"/>
<rect x="1006" y="652" width="3" height="5" fill="#ffcdd2"/>
<rect x="1011" y="652" width="3" height="5" fill="#ffcdd2"/>
<rect x="1015" y="652" width="3" height="4" fill="#ffcdd2"/>
<rect x="1020" y="652" width="3" height="3" fill="#ffcdd2"/>
<rect x="1024" y="652" width="3" height="1" fill="#ffcdd2"/>
<rect x="1029" y="652" width="3" height="1" fill="#26a69a"/>
<rect x="1033" y="651" width="3" height="2" fill="#26a69a"/>
<rect x="1038" y="650" width="3" height="3" fill="#26a69a"/>
<rect x="1042" y="650" width="3" height="3" fill="#26a69a"/>
<rect x="1047" y="651" width="3" height="2" fill="#b2dfdb"/>
<rect x="1051" y="650" width="3" height="3" fill="#26a69a"/>
<rect x="1056" y="650" width="3" height="3" fill="#26a69a"/>
<rect x="1060" y="650" width="3" height="3" fill="#26a69a"/>
<rect x="1065" y="648" width="3" height="5" fill="#26a69a"/>
<rect x="1069" y="647" width="3" height="6" fill="#26a69a"/>
<rect x="1074" y="646" width="3" height="7" fill="#26a69a"/>
<rect x="1078" y="646" width="3" height="7" fill="#b2dfdb"/>
<rect x="1083" y="647" width="3" height="6" fill="#b2dfdb"/>
<rect x="1087" y="647" width="3" height="6" fill="#b2dfdb"/>
<rect x="1092" y="648" width="3" height="5" fill="#b2dfdb"/>
<rect x="1096" y="650" width="3" height="3" fill="#b2dfdb"/>
<rect x="1101" y="650" width="3" height="3" fill="#b2dfdb"/>
<rect x="1106" y="651" width="3" height="2" fill="#b2dfdb"/>
<rect x="1110" y="651" width="3" height="2" fill="#b2dfdb"/>
<rect x="1115" y="651" width="3" height="2" fill="#b2dfdb"/>
<rect x="1119" y="652" width="3" height="1" fill="#b2dfdb"/>
<rect x="1124" y="652" width="3" height="1" fill="#b2dfdb"/>
<rect x="1128" y="652" width="3" height="1" fill="#ff5252"/>
<rect x="1133" y="652" width="3" height="1" fill="#26a69a"/>
<rect x="1137" y="652" width="3" height="1" fill="#26a69a"/>
<rect x="1142" y="651" width="3" height="2" fill="#26a69a"/>
<rect x="1146" y="651" width="3" height="2" fill="#26a69a"/>
<rect x="1151" y="651" width="3" height="2" fill="#b2dfdb"/>
<rect x="1155" y="651" width="3" height="2" fill="#b2dfdb"/>
<rect x="1160" y="651" width="3" height="2" fill="#26a69a"/>
<rect x="1164" y="651" width="3" height="2" fill="#b2dfdb"/>
<rect x="1169" y="651" width="3" height="2" fill="#b2dfdb"/>
<rect x="1173" y="652" width="3" height="1" fill="#b2dfdb"/>
<rect x="1178" y="652" width="3" height="1" fill="#26a69a"/>
<rect x="1182" y="651" width="3" height="2" fill="#26a69a"/>
<rect x="1187" y="649" width="3" height="4" fill="#26a69a"/>
<rect x="1191" y="649" width="3" height="4" fill="#26a69a"/>
<rect x="1196" y="649" width="3" height="4" fill="#26a69a"/>
<rect x="1200" y="649" width="3" height="4" fill="#b2dfdb"/>
<rect x="1205" y="650" width="3" height="3" fill="#b2dfdb"/>
<rect x="1209" y="651" width="3" height="2" fill="#b2dfdb"/>
<rect x="1214" y="652" width="3" height="1" fill="#b2dfdb"/>
<rect x="1218" y="652" width="3" height="1" fill="#26a69a"/>
<rect x="1223" y="651" width="3" height="2" fill="#26a69a"/>
<rect x="1227" y="651" width="3" height="2" fill="#26a69a"/>
<rect x="1232" y="651" width="3" height="2" fill="#b2dfdb"/>
<rect x="1236" y="651" width="3" height="2" fill="#b2dfdb"/>
<rect x="1241" y="651" width="3" height="2" fill="#b2dfdb"/>
<rect x="1245" y="652" width="3" height="1" fill="#b2dfdb"/>
<rect x="1250" y="652" width="3" height="1" fill="#ff5252"/>
<rect x="1254" y="649" width="3" height="4" fill="#26a69a"/>
<rect x="1259" y="648" width="3" height="5" fill="#26a69a"/>
<rect x="1263" y="648" width="3" height="5" fill="#26a69a"/>
<rect x="1268" y="649" width="3" height="4" fill="#b2dfdb"/>
<rect x="1272" y="650" width="3" height="3" fill="#b2dfdb"/>
<rect x="1277" y="651" width="3" height="2" fill="#b2dfdb"/>
<rect x="1281" y="652" width="3" height="1" fill="#ff5252"/>
<rect x="1286" y="652" width="3" height="2" fill="#ff5252"/>
<rect x="1290" y="652" width="3" height="3" fill="#ff5252"/>
<rect x="1295" y="652" width="3" height="3" fill="#ff5252"/>
<rect x="1299" y="652" width="3" height="3" fill="#ffcdd2"/>
<rect x="1304" y="652" width="3" height="3" fill="#ffcdd2"/>
<rect x="1308" y="652" width="3" height="3" fill="#ffcdd2"/>
<rect x="1313" y="652" width="3" height="3" fill="#ff5252"/>
<rect x="1317" y="652" width="3" height="2" fill="#ffcdd2"/>
<rect x="1322" y="652" width="3" height="2" fill="#ffcdd2"/>
<rect x="1327" y="652" width="3" height="1" fill="#26a69a"/>
<rect x="1331" y="651" width="3" height="2" fill="#26a69a"/>
<rect x="1336" y="651" width="3" height="2" fill="#b2dfdb"/>
<rect x="1340" y="651" width="3" height="2" fill="#b2dfdb"/>
<rect x="1345" y="651" width="3" height="2" fill="#b2dfdb"/>
<rect x="1349" y="651" width="3" height="2" fill="#26a69a"/>
<rect x="1354" y="651" width="3" height="2" fill="#b2dfdb"/>
<rect x="1358" y="652" width="3" height="1" fill="#b2dfdb"/>
<rect x="1363" y="652" width="3" height="1" fill="#b2dfdb"/>
<rect x="1367" y="652" width="3" height="1" fill="#ff5252"/>
<rect x="1372" y="652" width="3" height="1" fill="#ff5252"/>
<rect x="1376" y="652" width="3" height="2" fill="#ff5252"/>
<rect x="1381" y="652" width="3" height="3" fill="#ff5252"/>
<rect x="1385" y="652" width="3" height="3" fill="#ff5252"/>
<rect x="1390" y="652" width="3" height="3" fill="#ffcdd2"/>
<rect x="1394" y="652" width="3" height="2" fill="#ffcdd2"/>
<rect x="1399" y="652" width="3" height="2" fill="#ffcdd2"/>
<rect x="1403" y="652" width="3" height="1" fill="#ffcdd2"/>
<rect x="1408" y="652" width="3" height="1" fill="#ffcdd2"/>
<rect x="1412" y="652" width="3" height="1" fill="#26a69a"/>
<rect x="1417" y="651" width="3" height="2" fill="#26a69a"/>
<rect x="1421" y="651" width="3" height="2" fill="#26a69a"/>
<rect x="1426" y="652" width="3" height="1" fill="#b2dfdb"/>
<rect x="1430" y="652" width="3" height="1" fill="#ff5252"/>
<rect x="1435" y="652" width="3" height="2" fill="#ff5252"/>
<rect x="1439" y="652" width="3" height="2" fill="#ff5252"/>
<rect x="1444" y="652" width="3" height="2" fill="#ffcdd2"/>
<rect x="1448" y="652" width="3" height="2" fill="#ff5252"/>
<rect x="1453" y="652" width="3" height="2" fill="#ffcdd2"/>
<rect x="1457" y="652" width="3" height="2" fill="#ffcdd2"/>
<rect x="1462" y="652" width="3" height="2" fill="#ff5252"/>
<rect x="1466" y="652" width="3" height="2" fill="#ff5252"/>
<rect x="1471" y="652" width="3" height="2" fill="#ff5252"/>
<rect x="1475" y="652" width="3" height="2" fill="#ffcdd2"/>
<rect x="1480" y="652" width="3" height="2" fill="#ffcdd2"/>
<rect x="1484" y="652" width="3" height="2" fill="#ff5252"/>
<rect x="1489" y="652" width="3" height="1" fill="#ffcdd2"/>
<rect x="1493" y="652" width="3" height="1" fill="#26a69a"/>
<rect x="1498" y="651" width="3" height="2" fill="#26a69a"/>
<rect x="1502" y="651" width="3" height="2" fill="#b2dfdb"/>
<rect x="1507" y="651" width="3" height="2" fill="#26a69a"/>
<rect x="1511" y="651" width="3" height="2" fill="#26a69a"/>
<rect x="1516" y="650" width="3" height="3" fill="#26a69a"/>
<rect x="1520" y="651" width="3" height="2" fill="#b2dfdb"/>
<rect x="1525" y="651" width="3" height="2" fill="#b2dfdb"/>
<rect x="1529" y="651" width="3" height="2" fill="#26a69a"/>
<rect x="1534" y="651" width="3" height="2" fill="#26a69a"/>
<rect x="1538" y="650" width="3" height="3" fill="#26a69a"/>
<rect x="1543" y="651" width="3" height="2" fill="#b2dfdb"/>
<rect x="1548" y="652" width="3" height="1" fill="#b2dfdb"/>
<rect x="1552" y="652" width="3" height="1" fill="#b2dfdb"/>
<rect x="1557" y="652" width="3" height="1" fill="#ff5252"/>
<rect x="1561" y="652" width="3" height="1" fill="#ff5252"/>
<rect x="1566" y="652" width="3" height="1" fill="#ffcdd2"/>
<rect x="1570" y="647" width="3" height="6" fill="#26a69a"/>
<rect x="1575" y="639" width="3" height="14" fill="#26a69a"/>
<rect x="1579" y="626" width="3" height="27" fill="#26a69a"/>
<rect x="1584" y="615" width="3" height="38" fill="#26a69a"/>
<rect x="1588" y="613" width="3" height="40" fill="#26a69a"/>
<rect x="1593" y="616" width="3" height="37" fill="#b2dfdb"/>
<rect x="1597" y="622" width="3" height="31" fill="#b2dfdb"/>
<rect x="1602" y="624" width="3" height="29" fill="#b2dfdb"/>
<rect x="1606" y="626" width="3" height="27" fill="#b2dfdb"/>
<rect x="1611" y="624" width="3" height="29" fill="#26a69a"/>
<rect x="1615" y="625" width="3" height="28" fill="#b2dfdb"/>
<rect x="1620" y="632" width="3" height="21" fill="#b2dfdb"/>
<rect x="1624" y="640" width="3" height="13" fill="#b2dfdb"/>
<rect x="1629" y="643" width="3" height="10" fill="#b2dfdb"/>
<rect x="1633" y="648" width="3" height="5" fill="#b2dfdb"/>
<rect x="1638" y="648" width="3" height="5" fill="#26a69a"/>
<rect x="1642" y="652" width="3" height="6" fill="#ff5252"/>
<rect x="1647" y="652" width="3" height="11" fill="#ff5252"/>
<rect x="1651" y="652" width="3" height="13" fill="#ff5252"/>
<rect x="1656" y="652" width="3" height="17" fill="#ff5252"/>
<rect x="1660" y="652" width="3" height="20" fill="#ff5252"/>
<path d="M146.9,658.8 L151.4,658.0 L155.9,656.8 L160.4,655.5 L164.9,656.7 L169.4,657.6 L173.9,659.2 L178.4,660.6 L182.9,660.4 L187.4,660.4 L192.0,660.3 L196.5,660.9 L201.0,660.8 L205.5,660.9 L210.0,661.0 L214.5,660.8 L219.0,660.8 L223.5,660.7 L228.0,660.2 L232.5,659.8 L237.1,659.2 L241.6,659.0 L246.1,658.6 L250.6,657.5 L255.1,657.3 L259.6,657.1 L264.1,657.3 L268.6,657.2 L273.1,656.9 L277.7,655.0 L282.2,653.7 L286.7,652.1 L291.2,652.0 L295.7,651.1 L300.2,649.8 L304.7,650.1 L309.2,650.1 L313.7,651.5 L318.2,652.1 L322.8,653.1 L327.3,653.5 L331.8,654.2 L336.3,655.1 L340.8,655.8 L345.3,656.4 L349.8,656.7 L354.3,657.1 L358.8,657.0 L363.3,657.6 L367.9,657.6 L372.4,657.2 L376.9,656.6 L381.4,656.0 L385.9,655.8 L390.4,655.6 L394.9,655.7 L399.4,656.4 L403.9,656.7 L408.4,656.9 L413.0,657.1 L417.5,657.7 L422.0,657.9 L426.5,658.2 L431.0,657.9 L435.5,657.3 L440.0,657.0 L444.5,656.2 L449.0,655.2 L453.5,654.2 L458.1,653.6 L462.6,654.1 L467.1,654.6 L471.6,655.8 L476.1,656.6 L480.6,656.9 L485.1,656.9 L489.6,656.6 L494.1,656.5 L498.7,656.2 L503.2,655.5 L507.7,655.5 L512.2,655.4 L516.7,655.3 L521.2,654.9 L525.7,654.6 L530.2,654.5 L534.7,654.5 L539.2,654.7 L543.8,654.7 L548.3,654.4 L552.8,654.4 L557.3,653.9 L561.8,652.4 L566.3,651.4 L570.8,650.2 L575.3,649.9 L579.8,649.7 L584.3,650.2 L588.9,650.4 L593.4,650.3 L597.9,650.5 L602.4,650.5 L606.9,650.5 L611.4,650.7 L615.9,650.7 L620.4,650.9 L624.9,650.9 L629.4,650.7 L634.0,648.0 L638.5,643.8 L643.0,640.4 L647.5,639.6 L652.0,638.4 L656.5,641.5 L661.0,644.9 L665.5,646.2 L670.0,648.0 L674.5,649.4 L679.1,647.3 L683.6,646.9 L688.1,644.1 L692.6,642.8 L697.1,643.7 L701.6,643.7 L706.1,644.3 L710.6,643.5 L715.1,642.6 L719.7,640.9 L724.2,629.8 L728.7,620.5 L733.2,619.0 L737.7,610.7 L742.2,605.2 L746.7,602.6 L751.2,610.3 L755.7,615.0 L760.2,618.5 L764.8,622.8 L769.3,627.9 L773.8,633.9 L778.3,638.0 L782.8,642.4 L787.3,646.7 L791.8,649.6 L796.3,650.4 L800.8,650.2 L805.3,643.0 L809.9,638.4 L814.4,636.2 L818.9,632.2 L823.4,632.1 L827.9,633.2 L832.4,635.8 L836.9,636.0 L841.4,635.5 L845.9,636.1 L850.4,636.8 L855.0,636.9 L859.5,635.7 L864.0,635.6 L868.5,637.5 L873.0,640.4 L877.5,645.1 L882.0,648.3 L886.5,651.1 L891.0,651.8 L895.5,653.5 L900.1,656.3 L904.6,657.8 L909.1,661.1 L913.6,664.2 L918.1,665.1 L922.6,663.9 L927.1,663.5 L931.6,663.7 L936.1,663.6 L940.7,662.8 L945.2,661.5 L949.7,659.6 L954.2,658.4 L958.7,658.7 L963.2,659.0 L967.7,659.8 L972.2,661.6 L976.7,663.5 L981.2,666.4 L985.8,668.9 L990.3,671.1 L994.8,672.4 L999.3,674.2 L1003.8,675.6 L1008.3,675.5 L1012.8,676.1 L1017.3,676.0 L1021.8,675.5 L1026.3,674.5 L1030.9,673.2 L1035.4,672.1 L1039.9,670.8 L1044.4,670.3 L1048.9,670.0 L1053.4,669.2 L1057.9,668.2 L1062.4,667.2 L1066.9,664.3 L1071.4,662.7 L1076.0,659.9 L1080.5,658.6 L1085.0,657.5 L1089.5,656.8 L1094.0,656.0 L1098.5,657.3 L1103.0,657.6 L1107.5,657.5 L1112.0,657.5 L1116.5,657.4 L1121.1,657.9 L1125.6,658.2 L1130.1,658.4 L1134.6,658.2 L1139.1,657.7 L1143.6,656.8 L1148.1,656.1 L1152.6,655.8 L1157.1,655.8 L1161.6,655.4 L1166.2,655.2 L1170.7,655.2 L1175.2,655.2 L1179.7,654.9 L1184.2,653.7 L1188.7,651.8 L1193.2,650.5 L1197.7,649.2 L1202.2,649.4 L1206.8,649.2 L1211.3,649.5 L1215.8,650.2 L1220.3,650.0 L1224.8,649.6 L1229.3,648.6 L1233.8,648.2 L1238.3,648.6 L1242.8,648.5 L1247.3,648.7 L1251.9,649.3 L1256.4,645.6 L1260.9,643.1 L1265.4,641.8 L1269.9,642.0 L1274.4,642.0 L1278.9,643.6 L1283.4,645.2 L1287.9,646.7 L1292.4,647.9 L1297.0,649.1 L1301.5,649.7 L1306.0,650.0 L1310.5,650.5 L1315.0,651.2 L1319.5,651.3 L1324.0,650.9 L1328.5,649.1 L1333.0,647.7 L1337.5,647.4 L1342.1,647.3 L1346.6,647.0 L1351.1,646.3 L1355.6,646.8 L1360.1,647.0 L1364.6,647.0 L1369.1,648.3 L1373.6,648.8 L1378.1,649.8 L1382.6,651.0 L1387.2,652.1 L1391.7,652.6 L1396.2,652.5 L1400.7,652.7 L1405.2,651.7 L1409.7,651.3 L1414.2,650.6 L1418.7,649.9 L1423.2,649.5 L1427.8,649.9 L1432.3,651.4 L1436.8,652.2 L1441.3,653.1 L1445.8,653.4 L1450.3,654.3 L1454.8,654.7 L1459.3,654.5 L1463.8,654.8 L1468.3,655.3 L1472.9,655.7 L1477.4,655.9 L1481.9,656.3 L1486.4,657.3 L1490.9,656.5 L1495.4,654.8 L1499.9,653.3 L1504.4,653.4 L1508.9,652.9 L1513.4,652.4 L1518.0,651.3 L1522.5,651.5 L1527.0,651.8 L1531.5,651.5 L1536.0,650.9 L1540.5,649.8 L1545.0,650.6 L1549.5,651.2 L1554.0,651.3 L1558.5,652.0 L1563.1,652.5 L1567.6,651.8 L1572.1,644.7 L1576.6,634.1 L1581.1,614.0 L1585.6,594.4 L1590.1,582.0 L1594.6,576.6 L1599.1,574.6 L1603.6,569.7 L1608.2,565.1 L1612.7,556.2 L1617.2,549.6 L1621.7,551.8 L1626.2,557.3 L1630.7,558.0 L1635.2,561.7 L1639.7,560.6 L1644.2,572.1 L1648.8,579.5 L1653.3,584.2 L1657.8,592.9 L1662.3,600.7" fill="none" stroke="#2962ff" stroke-width="1.3" stroke-linejoin="round" shape-rendering="geometricPrecision"/>
<path d="M182.9,658.2 L187.4,658.6 L192.0,659.0 L196.5,659.3 L201.0,659.6 L205.5,659.9 L210.0,660.1 L214.5,660.3 L219.0,660.4 L223.5,660.4 L228.0,660.4 L232.5,660.3 L237.1,660.1 L241.6,659.8 L246.1,659.6 L250.6,659.2 L255.1,658.8 L259.6,658.5 L264.1,658.2 L268.6,658.0 L273.1,657.8 L277.7,657.3 L282.2,656.5 L286.7,655.7 L291.2,654.9 L295.7,654.2 L300.2,653.3 L304.7,652.7 L309.2,652.1 L313.7,652.0 L318.2,652.0 L322.8,652.3 L327.3,652.5 L331.8,652.8 L336.3,653.3 L340.8,653.8 L345.3,654.3 L349.8,654.8 L354.3,655.3 L358.8,655.6 L363.3,656.0 L367.9,656.3 L372.4,656.5 L376.9,656.5 L381.4,656.4 L385.9,656.3 L390.4,656.1 L394.9,656.1 L399.4,656.1 L403.9,656.2 L408.4,656.4 L413.0,656.5 L417.5,656.8 L422.0,657.0 L426.5,657.2 L431.0,657.4 L435.5,657.3 L440.0,657.3 L444.5,657.0 L449.0,656.7 L453.5,656.2 L458.1,655.7 L462.6,655.3 L467.1,655.2 L471.6,655.3 L476.1,655.6 L480.6,655.8 L485.1,656.0 L489.6,656.2 L494.1,656.2 L498.7,656.2 L503.2,656.1 L507.7,656.0 L512.2,655.8 L516.7,655.7 L521.2,655.6 L525.7,655.4 L530.2,655.2 L534.7,655.1 L539.2,655.0 L543.8,654.9 L548.3,654.8 L552.8,654.8 L557.3,654.6 L561.8,654.2 L566.3,653.6 L570.8,652.9 L575.3,652.3 L579.8,651.8 L584.3,651.5 L588.9,651.3 L593.4,651.1 L597.9,651.0 L602.4,650.9 L606.9,650.8 L611.4,650.8 L615.9,650.7 L620.4,650.8 L624.9,650.8 L629.4,650.8 L634.0,650.2 L638.5,648.9 L643.0,647.2 L647.5,645.7 L652.0,644.2 L656.5,643.7 L661.0,643.9 L665.5,644.4 L670.0,645.1 L674.5,646.0 L679.1,646.2 L683.6,646.4 L688.1,645.9 L692.6,645.3 L697.1,645.0 L701.6,644.7 L706.1,644.6 L710.6,644.4 L715.1,644.0 L719.7,643.4 L724.2,640.7 L728.7,636.7 L733.2,633.1 L737.7,628.6 L742.2,624.0 L746.7,619.7 L751.2,617.8 L755.7,617.2 L760.2,617.5 L764.8,618.5 L769.3,620.4 L773.8,623.1 L778.3,626.1 L782.8,629.4 L787.3,632.8 L791.8,636.2 L796.3,639.0 L800.8,641.3 L805.3,641.6 L809.9,641.0 L814.4,640.0 L818.9,638.5 L823.4,637.2 L827.9,636.4 L832.4,636.3 L836.9,636.2 L841.4,636.1 L845.9,636.1 L850.4,636.2 L855.0,636.3 L859.5,636.2 L864.0,636.1 L868.5,636.4 L873.0,637.2 L877.5,638.8 L882.0,640.7 L886.5,642.8 L891.0,644.6 L895.5,646.4 L900.1,648.3 L904.6,650.2 L909.1,652.4 L913.6,654.8 L918.1,656.8 L922.6,658.3 L927.1,659.3 L931.6,660.2 L936.1,660.9 L940.7,661.3 L945.2,661.3 L949.7,661.0 L954.2,660.4 L958.7,660.1 L963.2,659.9 L967.7,659.9 L972.2,660.2 L976.7,660.9 L981.2,662.0 L985.8,663.4 L990.3,664.9 L994.8,666.4 L999.3,668.0 L1003.8,669.5 L1008.3,670.7 L1012.8,671.8 L1017.3,672.6 L1021.8,673.2 L1026.3,673.5 L1030.9,673.4 L1035.4,673.1 L1039.9,672.7 L1044.4,672.2 L1048.9,671.8 L1053.4,671.2 L1057.9,670.6 L1062.4,670.0 L1066.9,668.8 L1071.4,667.6 L1076.0,666.1 L1080.5,664.6 L1085.0,663.2 L1089.5,661.9 L1094.0,660.7 L1098.5,660.0 L1103.0,659.5 L1107.5,659.1 L1112.0,658.8 L1116.5,658.5 L1121.1,658.4 L1125.6,658.3 L1130.1,658.3 L1134.6,658.3 L1139.1,658.2 L1143.6,657.9 L1148.1,657.5 L1152.6,657.2 L1157.1,656.9 L1161.6,656.6 L1166.2,656.3 L1170.7,656.1 L1175.2,655.9 L1179.7,655.7 L1184.2,655.3 L1188.7,654.6 L1193.2,653.8 L1197.7,652.9 L1202.2,652.2 L1206.8,651.6 L1211.3,651.2 L1215.8,651.0 L1220.3,650.8 L1224.8,650.6 L1229.3,650.2 L1233.8,649.8 L1238.3,649.5 L1242.8,649.3 L1247.3,649.2 L1251.9,649.2 L1256.4,648.5 L1260.9,647.4 L1265.4,646.3 L1269.9,645.4 L1274.4,644.8 L1278.9,644.5 L1283.4,644.7 L1287.9,645.1 L1292.4,645.6 L1297.0,646.3 L1301.5,647.0 L1306.0,647.6 L1310.5,648.2 L1315.0,648.8 L1319.5,649.3 L1324.0,649.6 L1328.5,649.5 L1333.0,649.1 L1337.5,648.8 L1342.1,648.5 L1346.6,648.2 L1351.1,647.8 L1355.6,647.6 L1360.1,647.5 L1364.6,647.4 L1369.1,647.6 L1373.6,647.8 L1378.1,648.2 L1382.6,648.7 L1387.2,649.4 L1391.7,650.1 L1396.2,650.5 L1400.7,651.0 L1405.2,651.1 L1409.7,651.2 L1414.2,651.1 L1418.7,650.8 L1423.2,650.6 L1427.8,650.4 L1432.3,650.6 L1436.8,650.9 L1441.3,651.4 L1445.8,651.8 L1450.3,652.3 L1454.8,652.8 L1459.3,653.1 L1463.8,653.5 L1468.3,653.8 L1472.9,654.2 L1477.4,654.5 L1481.9,654.9 L1486.4,655.4 L1490.9,655.6 L1495.4,655.4 L1499.9,655.0 L1504.4,654.7 L1508.9,654.3 L1513.4,653.9 L1518.0,653.4 L1522.5,653.0 L1527.0,652.8 L1531.5,652.5 L1536.0,652.2 L1540.5,651.7 L1545.0,651.5 L1549.5,651.4 L1554.0,651.4 L1558.5,651.5 L1563.1,651.7 L1567.6,651.7 L1572.1,650.3 L1576.6,647.1 L1581.1,640.4 L1585.6,631.2 L1590.1,621.4 L1594.6,612.4 L1599.1,604.9 L1603.6,597.8 L1608.2,591.3 L1612.7,584.3 L1617.2,577.3 L1621.7,572.2 L1626.2,569.2 L1630.7,567.0 L1635.2,565.9 L1639.7,564.9 L1644.2,566.3 L1648.8,569.0 L1653.3,572.0 L1657.8,576.2 L1662.3,581.1" fill="none" stroke="#ff6d00" stroke-width="1.3" stroke-linejoin="round" shape-rendering="geometricPrecision"/>
<g shape-rendering="geometricPrecision"><circle cx="1662.5" cy="476.5" r="12.35" fill="#0f0f0f" stroke="#b847c8" stroke-width="2"/><path d="M1666.45 470 L1658.9 476.75 L1666.3 475.95 L1658.9 483.2" fill="none" stroke="#b847c8" stroke-width="1.7" stroke-linejoin="miter" stroke-miterlimit="12"/></g>
</svg>
<div class="t" style="left:1734.55px;top:32.30px;font-size:15.3px;color:#b8b8b8;transform:scale(0.9937,1.000);">5.0000</div>
<div class="t" style="left:1734.89px;top:102.70px;font-size:15.3px;color:#b8b8b8;transform:scale(0.9864,1.000);">4.0000</div>
<div class="t" style="left:1734.64px;top:173.20px;font-size:15.3px;color:#b8b8b8;transform:scale(0.9917,1.000);">3.0000</div>
<div class="t" style="left:1735.25px;top:314.00px;font-size:15.3px;color:#b8b8b8;transform:scale(0.9786,1.000);">1.0000</div>
<div class="t" style="left:1734.74px;top:384.50px;font-size:15.3px;color:#b8b8b8;transform:scale(0.9896,1.000);">0.0000</div>
<div class="t" style="left:1734.74px;top:558.30px;font-size:15.3px;color:#b8b8b8;transform:scale(0.9896,1.000);">0.5000</div>
<div class="t" style="left:1734.74px;top:645.40px;font-size:15.3px;color:#b8b8b8;transform:scale(0.9896,1.000);">0.0000</div>
<div class="t" style="left:1735.27px;top:454.90px;font-size:15.3px;color:#b8b8b8;transform:scale(0.9619,1.000);">−1.0000</div>
<div class="t" style="left:1735.27px;top:731.90px;font-size:15.3px;color:#b8b8b8;transform:scale(0.9619,1.000);">−0.5000</div>
<div class="lab" style="top:231px;height:39px;width:62px;background:#f23645;"></div>
<div class="lab" style="top:472px;height:21px;width:57px;background:#ef5350;"></div>
<div class="lab" style="top:569px;height:21px;width:62px;background:#ff6d00;"></div>
<div class="lab" style="top:590px;height:21px;width:62px;background:#2962ff;"></div>
<div class="lab" style="top:661px;height:21px;width:70px;background:#ff5252;"></div>
<svg style="left:13px;top:815px" width="25" height="19.5" viewBox="0 0 36 28" shape-rendering="geometricPrecision"><path d="M14 22H7V11H0V4h14v18zM28 22h-8l7.5-18h8L28 22z" fill="#d6d6d6"/><circle cx="20" cy="8" r="4" fill="#d6d6d6"/></svg>
<div class="t" style="left:12.80px;top:11.85px;font-size:15px;color:#d6d6d6;transform:scale(1.0065,1.000);">phemolly24</div>
<div class="t" style="left:94.81px;top:11.85px;font-size:15px;color:#d6d6d6;transform:scale(1.0008,1.000);">published</div>
<div class="t" style="left:164.00px;top:11.85px;font-size:15px;color:#d6d6d6;transform:scale(0.9916,1.000);">on</div>
<div class="t" style="left:186.07px;top:11.85px;font-size:15px;color:#d6d6d6;transform:scale(0.9855,1.000);">TradingView.com,</div>
<div class="t" style="left:307.61px;top:11.85px;font-size:15px;color:#d6d6d6;transform:scale(0.9441,1.000);">Apr</div>
<div class="t" style="left:335.14px;top:11.85px;font-size:15px;color:#d6d6d6;transform:scale(0.9902,1.000);">05,</div>
<div class="t" style="left:360.90px;top:11.85px;font-size:15px;color:#d6d6d6;transform:scale(0.9602,1.000);">2025</div>
<div class="t" style="left:397.29px;top:11.85px;font-size:15px;color:#d6d6d6;transform:scale(0.9775,1.000);">20:05</div>
<div class="t" style="left:438.37px;top:11.85px;font-size:15px;color:#d6d6d6;transform:scale(0.8598,1.000);">UTC</div>
<div class="t" style="left:22.77px;top:46.95px;font-size:15px;color:#c8c8c8;transform:scale(0.8426,1.000);">XRP</div>
<div class="t" style="left:53.61px;top:46.95px;font-size:15px;color:#c8c8c8;transform:scale(0.9412,1.000);">/</div>
<div class="t" style="left:66.98px;top:46.95px;font-size:15px;color:#c8c8c8;transform:scale(0.9445,1.000);">TetherUS</div>
<div class="t" style="left:130.21px;top:46.95px;font-size:15px;color:#c8c8c8;transform:scale(1.0784,1.000);">·</div>
<div class="t" style="left:139.62px;top:46.95px;font-size:15px;color:#c8c8c8;transform:scale(0.9308,1.000);">1W</div>
<div class="t" style="left:165.14px;top:46.95px;font-size:15px;color:#c8c8c8;transform:scale(1.1275,1.000);">·</div>
<div class="t" style="left:174.74px;top:46.95px;font-size:15px;color:#c8c8c8;transform:scale(0.8710,1.000);">BINANCE</div>
<div class="t" style="left:241.82px;top:46.95px;font-size:15px;color:#c8c8c8;transform:scale(0.9476,1.000);">O</div>
<div class="t" style="left:252.40px;top:46.95px;font-size:15px;color:#f23645;transform:scale(0.9422,1.000);">2.1371</div>
<div class="t" style="left:305.77px;top:46.95px;font-size:15px;color:#c8c8c8;transform:scale(0.9393,1.000);">H</div>
<div class="t" style="left:316.19px;top:46.95px;font-size:15px;color:#f23645;transform:scale(0.9754,1.000);">2.2330</div>
<div class="t" style="left:369.59px;top:46.95px;font-size:15px;color:#c8c8c8;transform:scale(0.9211,1.000);">L</div>
<div class="t" style="left:378.08px;top:46.95px;font-size:15px;color:#f23645;transform:scale(0.9690,1.000);">1.9600</div>
<div class="t" style="left:430.99px;top:46.95px;font-size:15px;color:#c8c8c8;transform:scale(0.8392,1.000);">C</div>
<div class="t" style="left:440.28px;top:46.95px;font-size:15px;color:#f23645;transform:scale(0.9909,1.000);">2.1200</div>
<div class="t" style="left:494.58px;top:46.95px;font-size:15px;color:#f23645;transform:scale(0.9610,1.000);">−0.0169</div>
<div class="t" style="left:552.35px;top:46.95px;font-size:15px;color:#f23645;transform:scale(0.9220,1.000);">(−0.79%)</div>
<div class="t" style="left:41.96px;top:817.75px;font-size:15px;color:#d6d6d6;transform:scale(1.0637,1.000);">TradingView</div>
<div class="t" style="left:1735.68px;top:234.95px;font-size:15px;color:#ffffff;transform:scale(1.0064,1.000);">2.1200</div>
<div class="t" style="left:1735.73px;top:252.75px;font-size:15px;color:#fbd5d8;transform:scale(1.0201,1.000);">1d 4h</div>
<div class="t" style="left:1736.20px;top:475.95px;font-size:15px;color:#ffffff;transform:scale(0.9548,1.000);">1.35 B</div>
<div class="t" style="left:1735.64px;top:572.85px;font-size:15px;color:#ffffff;transform:scale(0.9869,1.000);">0.4097</div>
<div class="t" style="left:1735.65px;top:593.95px;font-size:15px;color:#ffffff;transform:scale(0.9854,1.000);">0.2971</div>
<div class="t" style="left:1736.46px;top:664.65px;font-size:15px;color:#ffffff;transform:scale(1.0038,1.000);">−0.1126</div>
<div id="taxis"><div class="t" style="left:49.93px;top:11.05px;font-size:15px;color:#b8b8b8;transform:scale(1.0817,1.000);">Jul</div>
<div class="t" style="left:164.34px;top:11.05px;font-size:15px;color:#b8b8b8;transform:scale(1.0491,1.000);font-weight:bold;">2019</div>
<div class="t" style="left:284.93px;top:11.05px;font-size:15px;color:#b8b8b8;transform:scale(1.0817,1.000);">Jul</div>
<div class="t" style="left:398.34px;top:11.05px;font-size:15px;color:#b8b8b8;transform:scale(1.0497,1.000);font-weight:bold;">2020</div>
<div class="t" style="left:523.93px;top:11.05px;font-size:15px;color:#b8b8b8;transform:scale(1.0817,1.000);">Jul</div>
<div class="t" style="left:633.34px;top:11.05px;font-size:15px;color:#b8b8b8;transform:scale(1.0456,1.000);font-weight:bold;">2021</div>
<div class="t" style="left:757.93px;top:11.05px;font-size:15px;color:#b8b8b8;transform:scale(1.0817,1.000);">Jul</div>
<div class="t" style="left:868.34px;top:11.05px;font-size:15px;color:#b8b8b8;transform:scale(1.0481,1.000);font-weight:bold;">2022</div>
<div class="t" style="left:992.93px;top:11.05px;font-size:15px;color:#b8b8b8;transform:scale(1.0817,1.000);">Jul</div>
<div class="t" style="left:1102.34px;top:11.05px;font-size:15px;color:#b8b8b8;transform:scale(1.0494,1.000);font-weight:bold;">2023</div>
<div class="t" style="left:1226.93px;top:11.05px;font-size:15px;color:#b8b8b8;transform:scale(1.0817,1.000);">Jul</div>
<div class="t" style="left:1337.34px;top:11.05px;font-size:15px;color:#b8b8b8;transform:scale(1.0261,1.000);font-weight:bold;">2024</div>
<div class="t" style="left:1461.93px;top:11.05px;font-size:15px;color:#b8b8b8;transform:scale(1.0817,1.000);">Jul</div>
<div class="t" style="left:1576.34px;top:11.05px;font-size:15px;color:#b8b8b8;transform:scale(1.0465,1.000);font-weight:bold;">2025</div>
<div class="t" style="left:1700.13px;top:11.05px;font-size:15px;color:#b8b8b8;transform:scale(1.0817,1.000);">Jul</div></div>
</body></html>
